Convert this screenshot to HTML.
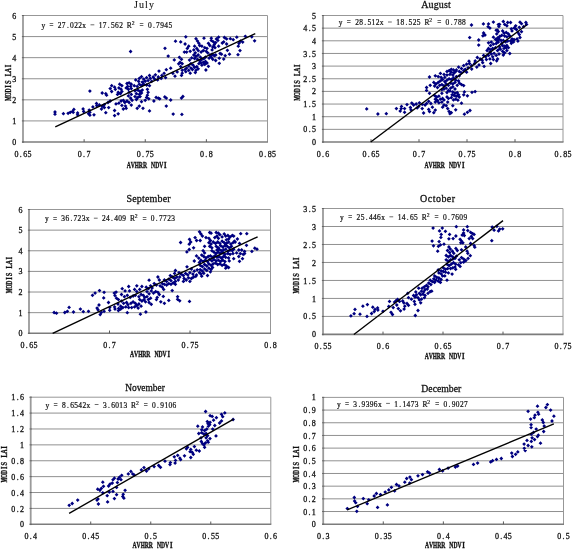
<!DOCTYPE html>
<html><head><meta charset="utf-8"><title>MODIS LAI vs AVHRR NDVI</title>
<style>html,body{margin:0;padding:0;background:#fff}body{width:572px;height:549px;overflow:hidden;font-family:"Liberation Serif",serif}svg{display:block;will-change:transform;-webkit-font-smoothing:antialiased;filter:blur(.35px)}</style></head>
<body>
<svg width="572" height="549" viewBox="0 0 572 549" font-family="'Liberation Serif', serif" fill="#111">
<rect width="572" height="549" fill="#fff"/>
<g>
<path d="M23 120.92H267.5M23 99.83H267.5M23 78.75H267.5M23 57.67H267.5M23 36.58H267.5" stroke="#909090" stroke-width="1" fill="none"/>
<path d="M22 15.5H267.5V142" stroke="#979797" stroke-width="1" fill="none"/>
<path d="M23 15V142.8" stroke="#9a9a9a" stroke-width="1.8" fill="none"/>
<path d="M22 142H268" stroke="#7c7c7c" stroke-width="1.6" fill="none"/>
<path d="M21.9 142h2.2M21.9 120.92h2.2M21.9 99.83h2.2M21.9 78.75h2.2M21.9 57.67h2.2M21.9 36.58h2.2M21.9 15.5h2.2" stroke="#666" stroke-width="1" fill="none"/>
<path d="M84.12 142v-2.8M145.25 142v-2.8M206.38 142v-2.8" stroke="#5a5a5a" stroke-width="1" fill="none"/>
<text x="17.99 22.66 27.34 32.01" y="157" font-size="8.7" text-anchor="middle" stroke="#111" stroke-width=".3" transform="scale(0.92 1)">0.65</text>
<text x="86.77 91.44 96.11" y="157" font-size="8.7" text-anchor="middle" stroke="#111" stroke-width=".3" transform="scale(0.92 1)">0.7</text>
<text x="150.87 155.54 160.22 164.89" y="157" font-size="8.7" text-anchor="middle" stroke="#111" stroke-width=".3" transform="scale(0.92 1)">0.75</text>
<text x="219.65 224.32 228.99" y="157" font-size="8.7" text-anchor="middle" stroke="#111" stroke-width=".3" transform="scale(0.92 1)">0.8</text>
<text x="283.75 288.42 293.1 297.77" y="157" font-size="8.7" text-anchor="middle" stroke="#111" stroke-width=".3" transform="scale(0.92 1)">0.85</text>
<text x="15.38" y="145.1" font-size="8.7" text-anchor="middle" stroke="#111" stroke-width=".3" transform="scale(0.92 1)">0</text>
<text x="15.38" y="124.02" font-size="8.7" text-anchor="middle" stroke="#111" stroke-width=".3" transform="scale(0.92 1)">1</text>
<text x="15.38" y="102.93" font-size="8.7" text-anchor="middle" stroke="#111" stroke-width=".3" transform="scale(0.92 1)">2</text>
<text x="15.38" y="81.85" font-size="8.7" text-anchor="middle" stroke="#111" stroke-width=".3" transform="scale(0.92 1)">3</text>
<text x="15.38" y="60.77" font-size="8.7" text-anchor="middle" stroke="#111" stroke-width=".3" transform="scale(0.92 1)">4</text>
<text x="15.38" y="39.68" font-size="8.7" text-anchor="middle" stroke="#111" stroke-width=".3" transform="scale(0.92 1)">5</text>
<text x="15.38" y="18.6" font-size="8.7" text-anchor="middle" stroke="#111" stroke-width=".3" transform="scale(0.92 1)">6</text>
<text x="134" y="7.5" font-size="10" textLength="20" lengthAdjust="spacing" stroke="#111" stroke-width=".1">July</text>
<text transform="translate(128.69 168.3) scale(0.71 1)" font-size="8" text-anchor="middle" font-weight="bold" stroke="#111" stroke-width=".32">A</text><text transform="translate(132.75 168.3) scale(0.71 1)" font-size="8" text-anchor="middle" font-weight="bold" stroke="#111" stroke-width=".32">V</text><text transform="translate(136.82 168.3) scale(0.659 1)" font-size="8" text-anchor="middle" font-weight="bold" stroke="#111" stroke-width=".32">H</text><text transform="translate(140.9 168.3) scale(0.71 1)" font-size="8" text-anchor="middle" font-weight="bold" stroke="#111" stroke-width=".32">R</text><text transform="translate(144.97 168.3) scale(0.71 1)" font-size="8" text-anchor="middle" font-weight="bold" stroke="#111" stroke-width=".32">R</text><text transform="translate(153.11 168.3) scale(0.71 1)" font-size="8" text-anchor="middle" font-weight="bold" stroke="#111" stroke-width=".32">N</text><text transform="translate(157.18 168.3) scale(0.71 1)" font-size="8" text-anchor="middle" font-weight="bold" stroke="#111" stroke-width=".32">D</text><text transform="translate(161.25 168.3) scale(0.71 1)" font-size="8" text-anchor="middle" font-weight="bold" stroke="#111" stroke-width=".32">V</text><text transform="translate(165.31 168.3) scale(0.82 1)" font-size="8" text-anchor="middle" font-weight="bold" stroke="#111" stroke-width=".32">I</text>
<g transform="translate(8.3 82.3) rotate(-90)"><text transform="translate(-16.28 2.9) scale(0.636 1)" font-size="8" text-anchor="middle" font-weight="bold" stroke="#111" stroke-width=".32">M</text><text transform="translate(-12.21 2.9) scale(0.659 1)" font-size="8" text-anchor="middle" font-weight="bold" stroke="#111" stroke-width=".32">O</text><text transform="translate(-8.14 2.9) scale(0.71 1)" font-size="8" text-anchor="middle" font-weight="bold" stroke="#111" stroke-width=".32">D</text><text transform="translate(-4.07 2.9) scale(0.82 1)" font-size="8" text-anchor="middle" font-weight="bold" stroke="#111" stroke-width=".32">I</text><text transform="translate(0 2.9) scale(0.82 1)" font-size="8" text-anchor="middle" font-weight="bold" stroke="#111" stroke-width=".32">S</text><text transform="translate(8.14 2.9) scale(0.768 1)" font-size="8" text-anchor="middle" font-weight="bold" stroke="#111" stroke-width=".32">L</text><text transform="translate(12.21 2.9) scale(0.71 1)" font-size="8" text-anchor="middle" font-weight="bold" stroke="#111" stroke-width=".32">A</text><text transform="translate(16.28 2.9) scale(0.82 1)" font-size="8" text-anchor="middle" font-weight="bold" stroke="#111" stroke-width=".32">I</text></g>
<text x="47.01 64.82 69.27 73.73 78.18 82.63 87.09 91.54 109.35 113.81 118.26 122.71 127.17 131.62 140.52 162.79 167.24 171.7 176.15 180.6 185.06" y="28" font-size="8.1" text-anchor="middle" stroke="#111" stroke-width=".22" transform="scale(0.92 1)">y27.022x17.562R0.7945</text>
<path d="M49.64 23.5h3.6M49.64 25.5h3.6M90.51 24.8h3.8M139.77 23.5h3.6M139.77 25.5h3.6" stroke="#3a3a3a" stroke-width=".75" fill="none"/>
<text x="133.08" y="25" font-size="5.6" text-anchor="middle" stroke="#111" stroke-width=".2">2</text>
<path d="M53.1 112l1.9 -1.9 1.9 1.9 -1.9 1.9zM53.1 114.2l1.9 -1.9 1.9 1.9 -1.9 1.9zM61.5 113.7l1.9 -1.9 1.9 1.9 -1.9 1.9zM66.2 113.3l1.9 -1.9 1.9 1.9 -1.9 1.9zM68.4 112.3l1.9 -1.9 1.9 1.9 -1.9 1.9zM70.6 111.5l1.9 -1.9 1.9 1.9 -1.9 1.9zM72 109.4l1.9 -1.9 1.9 1.9 -1.9 1.9zM71.3 112.3l1.9 -1.9 1.9 1.9 -1.9 1.9zM75.7 113l1.9 -1.9 1.9 1.9 -1.9 1.9zM75.7 114.8l1.9 -1.9 1.9 1.9 -1.9 1.9zM81.2 108.9l1.9 -1.9 1.9 1.9 -1.9 1.9zM81.8 111.5l1.9 -1.9 1.9 1.9 -1.9 1.9zM88 91.1l1.9 -1.9 1.9 1.9 -1.9 1.9zM87.3 110.1l1.9 -1.9 1.9 1.9 -1.9 1.9zM88 112.3l1.9 -1.9 1.9 1.9 -1.9 1.9zM86.6 113.7l1.9 -1.9 1.9 1.9 -1.9 1.9zM88 115.2l1.9 -1.9 1.9 1.9 -1.9 1.9zM92.1 114.8l1.9 -1.9 1.9 1.9 -1.9 1.9zM91 106.9l1.9 -1.9 1.9 1.9 -1.9 1.9zM94.6 103.5l1.9 -1.9 1.9 1.9 -1.9 1.9zM94.9 105.7l1.9 -1.9 1.9 1.9 -1.9 1.9zM97.5 105l1.9 -1.9 1.9 1.9 -1.9 1.9zM128.7 51.5l1.9 -1.9 1.9 1.9 -1.9 1.9zM166.3 56.1l1.9 -1.9 1.9 1.9 -1.9 1.9zM172.4 59.9l1.9 -1.9 1.9 1.9 -1.9 1.9zM177.5 57.3l1.9 -1.9 1.9 1.9 -1.9 1.9zM176.8 63.8l1.9 -1.9 1.9 1.9 -1.9 1.9zM168.8 68.2l1.9 -1.9 1.9 1.9 -1.9 1.9zM164.4 69.7l1.9 -1.9 1.9 1.9 -1.9 1.9zM157.1 71.1l1.9 -1.9 1.9 1.9 -1.9 1.9zM162.2 73.3l1.9 -1.9 1.9 1.9 -1.9 1.9zM160 75.5l1.9 -1.9 1.9 1.9 -1.9 1.9zM153.5 74.8l1.9 -1.9 1.9 1.9 -1.9 1.9zM156.4 77l1.9 -1.9 1.9 1.9 -1.9 1.9zM151.3 77l1.9 -1.9 1.9 1.9 -1.9 1.9zM147.6 75.5l1.9 -1.9 1.9 1.9 -1.9 1.9zM148.4 78.4l1.9 -1.9 1.9 1.9 -1.9 1.9zM144.7 77.7l1.9 -1.9 1.9 1.9 -1.9 1.9zM141.8 79.1l1.9 -1.9 1.9 1.9 -1.9 1.9zM139.6 76.7l1.9 -1.9 1.9 1.9 -1.9 1.9zM137.4 78.4l1.9 -1.9 1.9 1.9 -1.9 1.9zM133.8 79.9l1.9 -1.9 1.9 1.9 -1.9 1.9zM136.7 81.3l1.9 -1.9 1.9 1.9 -1.9 1.9zM140.4 82.1l1.9 -1.9 1.9 1.9 -1.9 1.9zM143.3 81.3l1.9 -1.9 1.9 1.9 -1.9 1.9zM146.2 80.6l1.9 -1.9 1.9 1.9 -1.9 1.9zM149.8 81.3l1.9 -1.9 1.9 1.9 -1.9 1.9zM152.7 79.1l1.9 -1.9 1.9 1.9 -1.9 1.9zM155.7 79.9l1.9 -1.9 1.9 1.9 -1.9 1.9zM159.3 78.4l1.9 -1.9 1.9 1.9 -1.9 1.9zM163.7 77.7l1.9 -1.9 1.9 1.9 -1.9 1.9zM173.1 76.2l1.9 -1.9 1.9 1.9 -1.9 1.9zM171 73.3l1.9 -1.9 1.9 1.9 -1.9 1.9zM175.3 71.9l1.9 -1.9 1.9 1.9 -1.9 1.9zM109.8 85.7l1.9 -1.9 1.9 1.9 -1.9 1.9zM108.3 88.6l1.9 -1.9 1.9 1.9 -1.9 1.9zM112.7 87.2l1.9 -1.9 1.9 1.9 -1.9 1.9zM113.4 89.3l1.9 -1.9 1.9 1.9 -1.9 1.9zM109.8 91.5l1.9 -1.9 1.9 1.9 -1.9 1.9zM117.8 84.2l1.9 -1.9 1.9 1.9 -1.9 1.9zM120 85.7l1.9 -1.9 1.9 1.9 -1.9 1.9zM117 87.9l1.9 -1.9 1.9 1.9 -1.9 1.9zM119.2 89.3l1.9 -1.9 1.9 1.9 -1.9 1.9zM116.3 92.3l1.9 -1.9 1.9 1.9 -1.9 1.9zM118.5 93.7l1.9 -1.9 1.9 1.9 -1.9 1.9zM120 91.5l1.9 -1.9 1.9 1.9 -1.9 1.9zM115.6 94.4l1.9 -1.9 1.9 1.9 -1.9 1.9zM125.1 83.5l1.9 -1.9 1.9 1.9 -1.9 1.9zM127.2 82.8l1.9 -1.9 1.9 1.9 -1.9 1.9zM129.4 84.2l1.9 -1.9 1.9 1.9 -1.9 1.9zM125.8 86.4l1.9 -1.9 1.9 1.9 -1.9 1.9zM128.7 86.4l1.9 -1.9 1.9 1.9 -1.9 1.9zM124.3 87.9l1.9 -1.9 1.9 1.9 -1.9 1.9zM126.5 89.3l1.9 -1.9 1.9 1.9 -1.9 1.9zM129.4 88.6l1.9 -1.9 1.9 1.9 -1.9 1.9zM132.3 85.7l1.9 -1.9 1.9 1.9 -1.9 1.9zM135.3 86.4l1.9 -1.9 1.9 1.9 -1.9 1.9zM137.4 84.2l1.9 -1.9 1.9 1.9 -1.9 1.9zM139.6 85.7l1.9 -1.9 1.9 1.9 -1.9 1.9zM141.8 84.2l1.9 -1.9 1.9 1.9 -1.9 1.9zM144.7 85l1.9 -1.9 1.9 1.9 -1.9 1.9zM147.6 85.7l1.9 -1.9 1.9 1.9 -1.9 1.9zM100.3 93l1.9 -1.9 1.9 1.9 -1.9 1.9zM103.9 93.7l1.9 -1.9 1.9 1.9 -1.9 1.9zM104.7 95.2l1.9 -1.9 1.9 1.9 -1.9 1.9zM145.5 89.3l1.9 -1.9 1.9 1.9 -1.9 1.9zM146.2 92.3l1.9 -1.9 1.9 1.9 -1.9 1.9zM145.5 95.2l1.9 -1.9 1.9 1.9 -1.9 1.9zM144.7 97.4l1.9 -1.9 1.9 1.9 -1.9 1.9zM146.9 98.8l1.9 -1.9 1.9 1.9 -1.9 1.9zM143.3 100.3l1.9 -1.9 1.9 1.9 -1.9 1.9zM133.1 90.8l1.9 -1.9 1.9 1.9 -1.9 1.9zM136 90.1l1.9 -1.9 1.9 1.9 -1.9 1.9zM138.2 91.5l1.9 -1.9 1.9 1.9 -1.9 1.9zM140.4 90.1l1.9 -1.9 1.9 1.9 -1.9 1.9zM134.5 93.7l1.9 -1.9 1.9 1.9 -1.9 1.9zM137.4 94.4l1.9 -1.9 1.9 1.9 -1.9 1.9zM139.6 93l1.9 -1.9 1.9 1.9 -1.9 1.9zM133.1 96.6l1.9 -1.9 1.9 1.9 -1.9 1.9zM136 97.4l1.9 -1.9 1.9 1.9 -1.9 1.9zM138.2 96.6l1.9 -1.9 1.9 1.9 -1.9 1.9zM134.5 99.5l1.9 -1.9 1.9 1.9 -1.9 1.9zM127.2 92.3l1.9 -1.9 1.9 1.9 -1.9 1.9zM129.4 94.4l1.9 -1.9 1.9 1.9 -1.9 1.9zM126.5 95.9l1.9 -1.9 1.9 1.9 -1.9 1.9zM128.7 98.1l1.9 -1.9 1.9 1.9 -1.9 1.9zM130.2 100.3l1.9 -1.9 1.9 1.9 -1.9 1.9zM125.1 101l1.9 -1.9 1.9 1.9 -1.9 1.9zM127.2 102.5l1.9 -1.9 1.9 1.9 -1.9 1.9zM121.4 100.3l1.9 -1.9 1.9 1.9 -1.9 1.9zM122.9 102.5l1.9 -1.9 1.9 1.9 -1.9 1.9zM119.2 101l1.9 -1.9 1.9 1.9 -1.9 1.9zM117 103.2l1.9 -1.9 1.9 1.9 -1.9 1.9zM114.1 103.9l1.9 -1.9 1.9 1.9 -1.9 1.9zM120 105.4l1.9 -1.9 1.9 1.9 -1.9 1.9zM123.6 106.1l1.9 -1.9 1.9 1.9 -1.9 1.9zM154.2 97.4l1.9 -1.9 1.9 1.9 -1.9 1.9zM156.4 98.1l1.9 -1.9 1.9 1.9 -1.9 1.9zM157.8 98.8l1.9 -1.9 1.9 1.9 -1.9 1.9zM162.9 96.9l1.9 -1.9 1.9 1.9 -1.9 1.9zM164.4 98.1l1.9 -1.9 1.9 1.9 -1.9 1.9zM168.8 100l1.9 -1.9 1.9 1.9 -1.9 1.9zM152 101l1.9 -1.9 1.9 1.9 -1.9 1.9zM139.6 101.7l1.9 -1.9 1.9 1.9 -1.9 1.9zM137.4 106.1l1.9 -1.9 1.9 1.9 -1.9 1.9zM135.3 108.3l1.9 -1.9 1.9 1.9 -1.9 1.9zM141.1 108.3l1.9 -1.9 1.9 1.9 -1.9 1.9zM147.6 110.9l1.9 -1.9 1.9 1.9 -1.9 1.9zM164.4 106.1l1.9 -1.9 1.9 1.9 -1.9 1.9zM171.3 114.1l1.9 -1.9 1.9 1.9 -1.9 1.9zM129.4 105.1l1.9 -1.9 1.9 1.9 -1.9 1.9zM124.3 108.3l1.9 -1.9 1.9 1.9 -1.9 1.9zM121.4 109l1.9 -1.9 1.9 1.9 -1.9 1.9zM112.7 110.5l1.9 -1.9 1.9 1.9 -1.9 1.9zM116.3 113.8l1.9 -1.9 1.9 1.9 -1.9 1.9zM112.7 115.6l1.9 -1.9 1.9 1.9 -1.9 1.9zM103.9 112.7l1.9 -1.9 1.9 1.9 -1.9 1.9zM100.3 106.1l1.9 -1.9 1.9 1.9 -1.9 1.9zM102.5 107.6l1.9 -1.9 1.9 1.9 -1.9 1.9zM99.6 109l1.9 -1.9 1.9 1.9 -1.9 1.9zM106.8 107.6l1.9 -1.9 1.9 1.9 -1.9 1.9zM102.5 104.6l1.9 -1.9 1.9 1.9 -1.9 1.9zM106.1 102.5l1.9 -1.9 1.9 1.9 -1.9 1.9zM108.3 101l1.9 -1.9 1.9 1.9 -1.9 1.9zM183.9 36.8l1.9 -1.9 1.9 1.9 -1.9 1.9zM194.1 38.7l1.9 -1.9 1.9 1.9 -1.9 1.9zM202.1 38.2l1.9 -1.9 1.9 1.9 -1.9 1.9zM209.4 38.2l1.9 -1.9 1.9 1.9 -1.9 1.9zM216.7 37.2l1.9 -1.9 1.9 1.9 -1.9 1.9zM222.5 37.5l1.9 -1.9 1.9 1.9 -1.9 1.9zM224.7 38.9l1.9 -1.9 1.9 1.9 -1.9 1.9zM228.4 38.7l1.9 -1.9 1.9 1.9 -1.9 1.9zM231.3 39.7l1.9 -1.9 1.9 1.9 -1.9 1.9zM234.9 37.2l1.9 -1.9 1.9 1.9 -1.9 1.9zM243.4 36.3l1.9 -1.9 1.9 1.9 -1.9 1.9zM249.9 36.8l1.9 -1.9 1.9 1.9 -1.9 1.9zM252.7 40.8l1.9 -1.9 1.9 1.9 -1.9 1.9zM178.8 41.9l1.9 -1.9 1.9 1.9 -1.9 1.9zM183.2 44l1.9 -1.9 1.9 1.9 -1.9 1.9zM186.8 46.2l1.9 -1.9 1.9 1.9 -1.9 1.9zM185.4 48.4l1.9 -1.9 1.9 1.9 -1.9 1.9zM182.5 52.1l1.9 -1.9 1.9 1.9 -1.9 1.9zM184.7 52.1l1.9 -1.9 1.9 1.9 -1.9 1.9zM188.3 51.3l1.9 -1.9 1.9 1.9 -1.9 1.9zM195.6 41.1l1.9 -1.9 1.9 1.9 -1.9 1.9zM197 43.3l1.9 -1.9 1.9 1.9 -1.9 1.9zM192.7 46.2l1.9 -1.9 1.9 1.9 -1.9 1.9zM194.9 48.4l1.9 -1.9 1.9 1.9 -1.9 1.9zM191.9 49.9l1.9 -1.9 1.9 1.9 -1.9 1.9zM196.3 50.6l1.9 -1.9 1.9 1.9 -1.9 1.9zM193.4 52.8l1.9 -1.9 1.9 1.9 -1.9 1.9zM197.8 45.5l1.9 -1.9 1.9 1.9 -1.9 1.9zM200 46.2l1.9 -1.9 1.9 1.9 -1.9 1.9zM202.9 47.7l1.9 -1.9 1.9 1.9 -1.9 1.9zM205.1 48.4l1.9 -1.9 1.9 1.9 -1.9 1.9zM201.4 50.6l1.9 -1.9 1.9 1.9 -1.9 1.9zM204.3 51.3l1.9 -1.9 1.9 1.9 -1.9 1.9zM199.2 52.1l1.9 -1.9 1.9 1.9 -1.9 1.9zM206.5 43.3l1.9 -1.9 1.9 1.9 -1.9 1.9zM208 45.5l1.9 -1.9 1.9 1.9 -1.9 1.9zM205.8 52.8l1.9 -1.9 1.9 1.9 -1.9 1.9zM209.4 40.4l1.9 -1.9 1.9 1.9 -1.9 1.9zM211.6 41.9l1.9 -1.9 1.9 1.9 -1.9 1.9zM213.8 42.6l1.9 -1.9 1.9 1.9 -1.9 1.9zM212.3 44.8l1.9 -1.9 1.9 1.9 -1.9 1.9zM210.9 47l1.9 -1.9 1.9 1.9 -1.9 1.9zM213.1 47.7l1.9 -1.9 1.9 1.9 -1.9 1.9zM210.2 49.9l1.9 -1.9 1.9 1.9 -1.9 1.9zM214.5 38.9l1.9 -1.9 1.9 1.9 -1.9 1.9zM216 40.4l1.9 -1.9 1.9 1.9 -1.9 1.9zM220.4 43l1.9 -1.9 1.9 1.9 -1.9 1.9zM221.8 41.9l1.9 -1.9 1.9 1.9 -1.9 1.9zM224.7 44l1.9 -1.9 1.9 1.9 -1.9 1.9zM216.7 46.2l1.9 -1.9 1.9 1.9 -1.9 1.9zM218.2 53.5l1.9 -1.9 1.9 1.9 -1.9 1.9zM219.6 54.2l1.9 -1.9 1.9 1.9 -1.9 1.9zM225.5 50.3l1.9 -1.9 1.9 1.9 -1.9 1.9zM223.3 55.7l1.9 -1.9 1.9 1.9 -1.9 1.9zM227.6 54.2l1.9 -1.9 1.9 1.9 -1.9 1.9zM238.6 41.1l1.9 -1.9 1.9 1.9 -1.9 1.9zM240.8 42.1l1.9 -1.9 1.9 1.9 -1.9 1.9zM237.1 43.3l1.9 -1.9 1.9 1.9 -1.9 1.9zM236.4 46.2l1.9 -1.9 1.9 1.9 -1.9 1.9zM238.1 50.6l1.9 -1.9 1.9 1.9 -1.9 1.9zM236.1 54.7l1.9 -1.9 1.9 1.9 -1.9 1.9zM191.9 55l1.9 -1.9 1.9 1.9 -1.9 1.9zM194.1 56.4l1.9 -1.9 1.9 1.9 -1.9 1.9zM196.3 55l1.9 -1.9 1.9 1.9 -1.9 1.9zM198.5 57.2l1.9 -1.9 1.9 1.9 -1.9 1.9zM189.8 57.9l1.9 -1.9 1.9 1.9 -1.9 1.9zM187.6 60.1l1.9 -1.9 1.9 1.9 -1.9 1.9zM192.7 58.6l1.9 -1.9 1.9 1.9 -1.9 1.9zM195.6 59.3l1.9 -1.9 1.9 1.9 -1.9 1.9zM197.8 60.8l1.9 -1.9 1.9 1.9 -1.9 1.9zM200 59.3l1.9 -1.9 1.9 1.9 -1.9 1.9zM202.1 58.6l1.9 -1.9 1.9 1.9 -1.9 1.9zM203.6 57.2l1.9 -1.9 1.9 1.9 -1.9 1.9zM208 55l1.9 -1.9 1.9 1.9 -1.9 1.9zM210.2 54.2l1.9 -1.9 1.9 1.9 -1.9 1.9zM212.3 55.7l1.9 -1.9 1.9 1.9 -1.9 1.9zM209.4 57.2l1.9 -1.9 1.9 1.9 -1.9 1.9zM213.8 55l1.9 -1.9 1.9 1.9 -1.9 1.9zM207.2 58.2l1.9 -1.9 1.9 1.9 -1.9 1.9zM210.9 59.3l1.9 -1.9 1.9 1.9 -1.9 1.9zM213.8 60.5l1.9 -1.9 1.9 1.9 -1.9 1.9zM217.4 58.2l1.9 -1.9 1.9 1.9 -1.9 1.9zM221.8 59.1l1.9 -1.9 1.9 1.9 -1.9 1.9zM217.4 63.3l1.9 -1.9 1.9 1.9 -1.9 1.9zM179.6 59.3l1.9 -1.9 1.9 1.9 -1.9 1.9zM178.1 62.3l1.9 -1.9 1.9 1.9 -1.9 1.9zM180.3 63.7l1.9 -1.9 1.9 1.9 -1.9 1.9zM178.8 66.6l1.9 -1.9 1.9 1.9 -1.9 1.9zM203.6 61.5l1.9 -1.9 1.9 1.9 -1.9 1.9zM201.4 62.3l1.9 -1.9 1.9 1.9 -1.9 1.9zM199.2 63l1.9 -1.9 1.9 1.9 -1.9 1.9zM197 63.7l1.9 -1.9 1.9 1.9 -1.9 1.9zM200 65.2l1.9 -1.9 1.9 1.9 -1.9 1.9zM202.9 64.4l1.9 -1.9 1.9 1.9 -1.9 1.9zM205.1 63l1.9 -1.9 1.9 1.9 -1.9 1.9zM206.5 66.3l1.9 -1.9 1.9 1.9 -1.9 1.9zM204 70l1.9 -1.9 1.9 1.9 -1.9 1.9zM189 63.7l1.9 -1.9 1.9 1.9 -1.9 1.9zM191.2 65.2l1.9 -1.9 1.9 1.9 -1.9 1.9zM186.8 65.9l1.9 -1.9 1.9 1.9 -1.9 1.9zM184.7 68.1l1.9 -1.9 1.9 1.9 -1.9 1.9zM189 68.1l1.9 -1.9 1.9 1.9 -1.9 1.9zM192.7 67.4l1.9 -1.9 1.9 1.9 -1.9 1.9zM194.9 66.6l1.9 -1.9 1.9 1.9 -1.9 1.9zM196.3 68.8l1.9 -1.9 1.9 1.9 -1.9 1.9zM194.1 70.3l1.9 -1.9 1.9 1.9 -1.9 1.9zM190.5 69.5l1.9 -1.9 1.9 1.9 -1.9 1.9zM180.3 70.3l1.9 -1.9 1.9 1.9 -1.9 1.9zM183.2 69.5l1.9 -1.9 1.9 1.9 -1.9 1.9zM183.9 71.7l1.9 -1.9 1.9 1.9 -1.9 1.9zM180.3 73.2l1.9 -1.9 1.9 1.9 -1.9 1.9zM179.6 75.4l1.9 -1.9 1.9 1.9 -1.9 1.9zM186.8 70.3l1.9 -1.9 1.9 1.9 -1.9 1.9zM188.3 73.2l1.9 -1.9 1.9 1.9 -1.9 1.9zM193.4 72.5l1.9 -1.9 1.9 1.9 -1.9 1.9zM181 96.5l1.9 -1.9 1.9 1.9 -1.9 1.9zM179.6 98l1.9 -1.9 1.9 1.9 -1.9 1.9zM173.6 41.2l1.9 -1.9 1.9 1.9 -1.9 1.9zM163.1 48.3l1.9 -1.9 1.9 1.9 -1.9 1.9zM180 114.4l1.9 -1.9 1.9 1.9 -1.9 1.9z" fill="#000080"/>
<path d="M55.27 126.91L255.27 33.71" stroke="#000" stroke-width="1.35" fill="none"/>
</g>
<g>
<path d="M323 129.35H563M323 116.7H563M323 104.05H563M323 91.4H563M323 78.75H563M323 66.1H563M323 53.45H563M323 40.8H563M323 28.15H563" stroke="#909090" stroke-width="1" fill="none"/>
<path d="M322 15.5H563V142" stroke="#979797" stroke-width="1" fill="none"/>
<path d="M323 15V142.8" stroke="#9a9a9a" stroke-width="1.8" fill="none"/>
<path d="M322 142H563.5" stroke="#7c7c7c" stroke-width="1.6" fill="none"/>
<path d="M321.9 142h2.2M321.9 129.35h2.2M321.9 116.7h2.2M321.9 104.05h2.2M321.9 91.4h2.2M321.9 78.75h2.2M321.9 66.1h2.2M321.9 53.45h2.2M321.9 40.8h2.2M321.9 28.15h2.2M321.9 15.5h2.2" stroke="#666" stroke-width="1" fill="none"/>
<path d="M371 142v-2.8M419 142v-2.8M467 142v-2.8M515 142v-2.8" stroke="#5a5a5a" stroke-width="1" fill="none"/>
<text x="346.41 351.09 355.76" y="157" font-size="8.7" text-anchor="middle" stroke="#111" stroke-width=".3" transform="scale(0.92 1)">0.6</text>
<text x="396.25 400.92 405.6 410.27" y="157" font-size="8.7" text-anchor="middle" stroke="#111" stroke-width=".3" transform="scale(0.92 1)">0.65</text>
<text x="450.76 455.43 460.11" y="157" font-size="8.7" text-anchor="middle" stroke="#111" stroke-width=".3" transform="scale(0.92 1)">0.7</text>
<text x="500.6 505.27 509.95 514.62" y="157" font-size="8.7" text-anchor="middle" stroke="#111" stroke-width=".3" transform="scale(0.92 1)">0.75</text>
<text x="555.11 559.78 564.46" y="157" font-size="8.7" text-anchor="middle" stroke="#111" stroke-width=".3" transform="scale(0.92 1)">0.8</text>
<text x="604.95 609.62 614.29 618.97" y="157" font-size="8.7" text-anchor="middle" stroke="#111" stroke-width=".3" transform="scale(0.92 1)">0.85</text>
<text x="341.25" y="145.1" font-size="8.7" text-anchor="middle" stroke="#111" stroke-width=".3" transform="scale(0.92 1)">0</text>
<text x="331.9 336.58 341.25" y="132.45" font-size="8.7" text-anchor="middle" stroke="#111" stroke-width=".3" transform="scale(0.92 1)">0.5</text>
<text x="341.25" y="119.8" font-size="8.7" text-anchor="middle" stroke="#111" stroke-width=".3" transform="scale(0.92 1)">1</text>
<text x="331.9 336.58 341.25" y="107.15" font-size="8.7" text-anchor="middle" stroke="#111" stroke-width=".3" transform="scale(0.92 1)">1.5</text>
<text x="341.25" y="94.5" font-size="8.7" text-anchor="middle" stroke="#111" stroke-width=".3" transform="scale(0.92 1)">2</text>
<text x="331.9 336.58 341.25" y="81.85" font-size="8.7" text-anchor="middle" stroke="#111" stroke-width=".3" transform="scale(0.92 1)">2.5</text>
<text x="341.25" y="69.2" font-size="8.7" text-anchor="middle" stroke="#111" stroke-width=".3" transform="scale(0.92 1)">3</text>
<text x="331.9 336.58 341.25" y="56.55" font-size="8.7" text-anchor="middle" stroke="#111" stroke-width=".3" transform="scale(0.92 1)">3.5</text>
<text x="341.25" y="43.9" font-size="8.7" text-anchor="middle" stroke="#111" stroke-width=".3" transform="scale(0.92 1)">4</text>
<text x="331.9 336.58 341.25" y="31.25" font-size="8.7" text-anchor="middle" stroke="#111" stroke-width=".3" transform="scale(0.92 1)">4.5</text>
<text x="341.25" y="18.6" font-size="8.7" text-anchor="middle" stroke="#111" stroke-width=".3" transform="scale(0.92 1)">5</text>
<text x="421.2" y="8.3" font-size="10" textLength="29.6" lengthAdjust="spacing" stroke="#111" stroke-width=".28">August</text>
<text transform="translate(426.58 168.3) scale(0.71 1)" font-size="8" text-anchor="middle" font-weight="bold" stroke="#111" stroke-width=".32">A</text><text transform="translate(430.65 168.3) scale(0.71 1)" font-size="8" text-anchor="middle" font-weight="bold" stroke="#111" stroke-width=".32">V</text><text transform="translate(434.72 168.3) scale(0.659 1)" font-size="8" text-anchor="middle" font-weight="bold" stroke="#111" stroke-width=".32">H</text><text transform="translate(438.79 168.3) scale(0.71 1)" font-size="8" text-anchor="middle" font-weight="bold" stroke="#111" stroke-width=".32">R</text><text transform="translate(442.87 168.3) scale(0.71 1)" font-size="8" text-anchor="middle" font-weight="bold" stroke="#111" stroke-width=".32">R</text><text transform="translate(451 168.3) scale(0.71 1)" font-size="8" text-anchor="middle" font-weight="bold" stroke="#111" stroke-width=".32">N</text><text transform="translate(455.07 168.3) scale(0.71 1)" font-size="8" text-anchor="middle" font-weight="bold" stroke="#111" stroke-width=".32">D</text><text transform="translate(459.14 168.3) scale(0.71 1)" font-size="8" text-anchor="middle" font-weight="bold" stroke="#111" stroke-width=".32">V</text><text transform="translate(463.21 168.3) scale(0.82 1)" font-size="8" text-anchor="middle" font-weight="bold" stroke="#111" stroke-width=".32">I</text>
<g transform="translate(296.7 82) rotate(-90)"><text transform="translate(-16.28 2.9) scale(0.636 1)" font-size="8" text-anchor="middle" font-weight="bold" stroke="#111" stroke-width=".32">M</text><text transform="translate(-12.21 2.9) scale(0.659 1)" font-size="8" text-anchor="middle" font-weight="bold" stroke="#111" stroke-width=".32">O</text><text transform="translate(-8.14 2.9) scale(0.71 1)" font-size="8" text-anchor="middle" font-weight="bold" stroke="#111" stroke-width=".32">D</text><text transform="translate(-4.07 2.9) scale(0.82 1)" font-size="8" text-anchor="middle" font-weight="bold" stroke="#111" stroke-width=".32">I</text><text transform="translate(0 2.9) scale(0.82 1)" font-size="8" text-anchor="middle" font-weight="bold" stroke="#111" stroke-width=".32">S</text><text transform="translate(8.14 2.9) scale(0.768 1)" font-size="8" text-anchor="middle" font-weight="bold" stroke="#111" stroke-width=".32">L</text><text transform="translate(12.21 2.9) scale(0.71 1)" font-size="8" text-anchor="middle" font-weight="bold" stroke="#111" stroke-width=".32">A</text><text transform="translate(16.28 2.9) scale(0.82 1)" font-size="8" text-anchor="middle" font-weight="bold" stroke="#111" stroke-width=".32">I</text></g>
<text x="370.17 388.05 392.52 396.99 401.46 405.93 410.4 414.88 432.76 437.23 441.7 446.17 450.64 455.11 464.05 486.4 490.87 495.35 499.82 504.29" y="25.2" font-size="8.1" text-anchor="middle" stroke="#111" stroke-width=".22" transform="scale(0.92 1)">y28.512x18.525R0.788</text>
<path d="M346.98 20.5h3.6M346.98 22.5h3.6M388.01 22h3.8M437.47 20.5h3.6M437.47 22.5h3.6" stroke="#3a3a3a" stroke-width=".75" fill="none"/>
<text x="430.74" y="22.2" font-size="5.6" text-anchor="middle" stroke="#111" stroke-width=".2">2</text>
<path d="M364.8 108.9l1.9 -1.9 1.9 1.9 -1.9 1.9zM376 114l1.9 -1.9 1.9 1.9 -1.9 1.9zM384.4 113.7l1.9 -1.9 1.9 1.9 -1.9 1.9zM394.5 108.6l1.9 -1.9 1.9 1.9 -1.9 1.9zM398.3 111.1l1.9 -1.9 1.9 1.9 -1.9 1.9zM399.6 106.4l1.9 -1.9 1.9 1.9 -1.9 1.9zM399.3 108.6l1.9 -1.9 1.9 1.9 -1.9 1.9zM402.7 108.6l1.9 -1.9 1.9 1.9 -1.9 1.9zM402.7 112.3l1.9 -1.9 1.9 1.9 -1.9 1.9zM405.1 104.6l1.9 -1.9 1.9 1.9 -1.9 1.9zM408.5 107.5l1.9 -1.9 1.9 1.9 -1.9 1.9zM409.1 109.8l1.9 -1.9 1.9 1.9 -1.9 1.9zM409.9 103.1l1.9 -1.9 1.9 1.9 -1.9 1.9zM411.7 105l1.9 -1.9 1.9 1.9 -1.9 1.9zM414.3 104l1.9 -1.9 1.9 1.9 -1.9 1.9zM417.5 102.8l1.9 -1.9 1.9 1.9 -1.9 1.9zM415.3 107.9l1.9 -1.9 1.9 1.9 -1.9 1.9zM416.8 106.4l1.9 -1.9 1.9 1.9 -1.9 1.9zM488.8 63.5l1.9 -1.9 1.9 1.9 -1.9 1.9zM480.8 62.7l1.9 -1.9 1.9 1.9 -1.9 1.9zM482.2 66.4l1.9 -1.9 1.9 1.9 -1.9 1.9zM477.1 64.9l1.9 -1.9 1.9 1.9 -1.9 1.9zM474.9 67.1l1.9 -1.9 1.9 1.9 -1.9 1.9zM472.7 63.5l1.9 -1.9 1.9 1.9 -1.9 1.9zM469.8 65.6l1.9 -1.9 1.9 1.9 -1.9 1.9zM467.6 63.5l1.9 -1.9 1.9 1.9 -1.9 1.9zM464.7 64.2l1.9 -1.9 1.9 1.9 -1.9 1.9zM461.8 65.6l1.9 -1.9 1.9 1.9 -1.9 1.9zM466.2 67.8l1.9 -1.9 1.9 1.9 -1.9 1.9zM469.8 69l1.9 -1.9 1.9 1.9 -1.9 1.9zM463.3 69.3l1.9 -1.9 1.9 1.9 -1.9 1.9zM459.6 68.6l1.9 -1.9 1.9 1.9 -1.9 1.9zM456.7 67.1l1.9 -1.9 1.9 1.9 -1.9 1.9zM454.5 70l1.9 -1.9 1.9 1.9 -1.9 1.9zM449.4 69.3l1.9 -1.9 1.9 1.9 -1.9 1.9zM451.6 70l1.9 -1.9 1.9 1.9 -1.9 1.9zM447.2 70.7l1.9 -1.9 1.9 1.9 -1.9 1.9zM445.1 71.5l1.9 -1.9 1.9 1.9 -1.9 1.9zM449.4 72.2l1.9 -1.9 1.9 1.9 -1.9 1.9zM452.3 72.9l1.9 -1.9 1.9 1.9 -1.9 1.9zM453.8 71.5l1.9 -1.9 1.9 1.9 -1.9 1.9zM448 74.4l1.9 -1.9 1.9 1.9 -1.9 1.9zM450.9 75.1l1.9 -1.9 1.9 1.9 -1.9 1.9zM438.5 73.4l1.9 -1.9 1.9 1.9 -1.9 1.9zM442.1 74.4l1.9 -1.9 1.9 1.9 -1.9 1.9zM445.1 75.1l1.9 -1.9 1.9 1.9 -1.9 1.9zM433.4 75.8l1.9 -1.9 1.9 1.9 -1.9 1.9zM436.3 76.6l1.9 -1.9 1.9 1.9 -1.9 1.9zM439.2 77.3l1.9 -1.9 1.9 1.9 -1.9 1.9zM442.9 77.3l1.9 -1.9 1.9 1.9 -1.9 1.9zM427.6 77l1.9 -1.9 1.9 1.9 -1.9 1.9zM457.4 71.5l1.9 -1.9 1.9 1.9 -1.9 1.9zM459.6 72.9l1.9 -1.9 1.9 1.9 -1.9 1.9zM461.8 70.7l1.9 -1.9 1.9 1.9 -1.9 1.9zM464.7 72.2l1.9 -1.9 1.9 1.9 -1.9 1.9zM457.4 75.8l1.9 -1.9 1.9 1.9 -1.9 1.9zM454.5 76.6l1.9 -1.9 1.9 1.9 -1.9 1.9zM424.7 87.5l1.9 -1.9 1.9 1.9 -1.9 1.9zM428.3 85.3l1.9 -1.9 1.9 1.9 -1.9 1.9zM424.7 90.4l1.9 -1.9 1.9 1.9 -1.9 1.9zM427.6 93.3l1.9 -1.9 1.9 1.9 -1.9 1.9zM431.9 82.4l1.9 -1.9 1.9 1.9 -1.9 1.9zM434.1 83.9l1.9 -1.9 1.9 1.9 -1.9 1.9zM436.3 82.4l1.9 -1.9 1.9 1.9 -1.9 1.9zM438.5 80.9l1.9 -1.9 1.9 1.9 -1.9 1.9zM440.7 79.5l1.9 -1.9 1.9 1.9 -1.9 1.9zM442.9 81.7l1.9 -1.9 1.9 1.9 -1.9 1.9zM445.1 80.2l1.9 -1.9 1.9 1.9 -1.9 1.9zM447.2 78.8l1.9 -1.9 1.9 1.9 -1.9 1.9zM449.4 79.5l1.9 -1.9 1.9 1.9 -1.9 1.9zM451.6 78l1.9 -1.9 1.9 1.9 -1.9 1.9zM453.8 80.2l1.9 -1.9 1.9 1.9 -1.9 1.9zM432.7 86l1.9 -1.9 1.9 1.9 -1.9 1.9zM435.6 87.5l1.9 -1.9 1.9 1.9 -1.9 1.9zM437.8 85.3l1.9 -1.9 1.9 1.9 -1.9 1.9zM440 84.6l1.9 -1.9 1.9 1.9 -1.9 1.9zM442.1 86l1.9 -1.9 1.9 1.9 -1.9 1.9zM444.3 83.9l1.9 -1.9 1.9 1.9 -1.9 1.9zM446.5 85.3l1.9 -1.9 1.9 1.9 -1.9 1.9zM448.7 83.1l1.9 -1.9 1.9 1.9 -1.9 1.9zM450.9 83.9l1.9 -1.9 1.9 1.9 -1.9 1.9zM453.1 82.4l1.9 -1.9 1.9 1.9 -1.9 1.9zM456.7 80.9l1.9 -1.9 1.9 1.9 -1.9 1.9zM457.4 83.1l1.9 -1.9 1.9 1.9 -1.9 1.9zM459.6 84.6l1.9 -1.9 1.9 1.9 -1.9 1.9zM461.8 85.6l1.9 -1.9 1.9 1.9 -1.9 1.9zM455.3 85.3l1.9 -1.9 1.9 1.9 -1.9 1.9zM440 89.7l1.9 -1.9 1.9 1.9 -1.9 1.9zM442.1 89l1.9 -1.9 1.9 1.9 -1.9 1.9zM444.3 88.2l1.9 -1.9 1.9 1.9 -1.9 1.9zM446.5 90.4l1.9 -1.9 1.9 1.9 -1.9 1.9zM448.7 88.2l1.9 -1.9 1.9 1.9 -1.9 1.9zM450.9 86.8l1.9 -1.9 1.9 1.9 -1.9 1.9zM453.1 89l1.9 -1.9 1.9 1.9 -1.9 1.9zM448 91.1l1.9 -1.9 1.9 1.9 -1.9 1.9zM445.1 92.6l1.9 -1.9 1.9 1.9 -1.9 1.9zM440 93.3l1.9 -1.9 1.9 1.9 -1.9 1.9zM450.9 91.9l1.9 -1.9 1.9 1.9 -1.9 1.9zM453.1 93.3l1.9 -1.9 1.9 1.9 -1.9 1.9zM455.3 92.6l1.9 -1.9 1.9 1.9 -1.9 1.9zM456.7 94.8l1.9 -1.9 1.9 1.9 -1.9 1.9zM454.5 96.2l1.9 -1.9 1.9 1.9 -1.9 1.9zM452.3 95.5l1.9 -1.9 1.9 1.9 -1.9 1.9zM450.2 94.8l1.9 -1.9 1.9 1.9 -1.9 1.9zM457.4 97l1.9 -1.9 1.9 1.9 -1.9 1.9zM453.8 99.2l1.9 -1.9 1.9 1.9 -1.9 1.9zM456 100.2l1.9 -1.9 1.9 1.9 -1.9 1.9zM451.6 99.9l1.9 -1.9 1.9 1.9 -1.9 1.9zM449.4 97.7l1.9 -1.9 1.9 1.9 -1.9 1.9zM462.5 91.9l1.9 -1.9 1.9 1.9 -1.9 1.9zM461.8 94.8l1.9 -1.9 1.9 1.9 -1.9 1.9zM465.5 95.8l1.9 -1.9 1.9 1.9 -1.9 1.9zM470.1 92.3l1.9 -1.9 1.9 1.9 -1.9 1.9zM473.2 91.6l1.9 -1.9 1.9 1.9 -1.9 1.9zM459.6 103.2l1.9 -1.9 1.9 1.9 -1.9 1.9zM432.7 95.5l1.9 -1.9 1.9 1.9 -1.9 1.9zM434.9 97l1.9 -1.9 1.9 1.9 -1.9 1.9zM437 96.2l1.9 -1.9 1.9 1.9 -1.9 1.9zM433.4 99.2l1.9 -1.9 1.9 1.9 -1.9 1.9zM435.6 100.6l1.9 -1.9 1.9 1.9 -1.9 1.9zM438.5 99.2l1.9 -1.9 1.9 1.9 -1.9 1.9zM440.7 98.4l1.9 -1.9 1.9 1.9 -1.9 1.9zM442.1 99.9l1.9 -1.9 1.9 1.9 -1.9 1.9zM440 102.1l1.9 -1.9 1.9 1.9 -1.9 1.9zM437 102.8l1.9 -1.9 1.9 1.9 -1.9 1.9zM433.4 102.1l1.9 -1.9 1.9 1.9 -1.9 1.9zM445.1 97l1.9 -1.9 1.9 1.9 -1.9 1.9zM446.5 98.4l1.9 -1.9 1.9 1.9 -1.9 1.9zM445.8 102.1l1.9 -1.9 1.9 1.9 -1.9 1.9zM426.8 101.3l1.9 -1.9 1.9 1.9 -1.9 1.9zM429 103.5l1.9 -1.9 1.9 1.9 -1.9 1.9zM424.7 103.5l1.9 -1.9 1.9 1.9 -1.9 1.9zM423.2 105l1.9 -1.9 1.9 1.9 -1.9 1.9zM420.3 104.3l1.9 -1.9 1.9 1.9 -1.9 1.9zM442.1 105l1.9 -1.9 1.9 1.9 -1.9 1.9zM440.7 107.2l1.9 -1.9 1.9 1.9 -1.9 1.9zM444.3 105.7l1.9 -1.9 1.9 1.9 -1.9 1.9zM445.8 108.6l1.9 -1.9 1.9 1.9 -1.9 1.9zM450.9 105.7l1.9 -1.9 1.9 1.9 -1.9 1.9zM453.8 109.8l1.9 -1.9 1.9 1.9 -1.9 1.9zM420.3 108.6l1.9 -1.9 1.9 1.9 -1.9 1.9zM426.8 109.4l1.9 -1.9 1.9 1.9 -1.9 1.9zM427.6 111.5l1.9 -1.9 1.9 1.9 -1.9 1.9zM421.7 113l1.9 -1.9 1.9 1.9 -1.9 1.9zM431.9 112.7l1.9 -1.9 1.9 1.9 -1.9 1.9zM433.4 110.1l1.9 -1.9 1.9 1.9 -1.9 1.9zM430.5 107.2l1.9 -1.9 1.9 1.9 -1.9 1.9zM447.2 111.5l1.9 -1.9 1.9 1.9 -1.9 1.9zM449.4 112.7l1.9 -1.9 1.9 1.9 -1.9 1.9zM448 113.7l1.9 -1.9 1.9 1.9 -1.9 1.9zM462.5 114.2l1.9 -1.9 1.9 1.9 -1.9 1.9zM465.5 112.3l1.9 -1.9 1.9 1.9 -1.9 1.9zM468.1 110.5l1.9 -1.9 1.9 1.9 -1.9 1.9zM469.6 25l1.9 -1.9 1.9 1.9 -1.9 1.9zM467.8 37.6l1.9 -1.9 1.9 1.9 -1.9 1.9zM476.8 40l1.9 -1.9 1.9 1.9 -1.9 1.9zM476.8 45.1l1.9 -1.9 1.9 1.9 -1.9 1.9zM481.5 23.9l1.9 -1.9 1.9 1.9 -1.9 1.9zM486.6 23.9l1.9 -1.9 1.9 1.9 -1.9 1.9zM491.5 22.1l1.9 -1.9 1.9 1.9 -1.9 1.9zM486.2 26.7l1.9 -1.9 1.9 1.9 -1.9 1.9zM488 28.1l1.9 -1.9 1.9 1.9 -1.9 1.9zM496.4 24.6l1.9 -1.9 1.9 1.9 -1.9 1.9zM481.7 33l1.9 -1.9 1.9 1.9 -1.9 1.9zM483.1 35.1l1.9 -1.9 1.9 1.9 -1.9 1.9zM481 35.8l1.9 -1.9 1.9 1.9 -1.9 1.9zM494.3 30.2l1.9 -1.9 1.9 1.9 -1.9 1.9zM496.4 31.6l1.9 -1.9 1.9 1.9 -1.9 1.9zM491.5 37.2l1.9 -1.9 1.9 1.9 -1.9 1.9zM493.6 39.3l1.9 -1.9 1.9 1.9 -1.9 1.9zM495.7 37.9l1.9 -1.9 1.9 1.9 -1.9 1.9zM497.8 36.5l1.9 -1.9 1.9 1.9 -1.9 1.9zM486.6 42.8l1.9 -1.9 1.9 1.9 -1.9 1.9zM489.4 42.1l1.9 -1.9 1.9 1.9 -1.9 1.9zM491.5 44.2l1.9 -1.9 1.9 1.9 -1.9 1.9zM494.3 43.5l1.9 -1.9 1.9 1.9 -1.9 1.9zM488.7 45.6l1.9 -1.9 1.9 1.9 -1.9 1.9zM496.4 42.1l1.9 -1.9 1.9 1.9 -1.9 1.9zM486.6 48.4l1.9 -1.9 1.9 1.9 -1.9 1.9zM488.7 49.8l1.9 -1.9 1.9 1.9 -1.9 1.9zM490.8 48.4l1.9 -1.9 1.9 1.9 -1.9 1.9zM485.2 50.5l1.9 -1.9 1.9 1.9 -1.9 1.9zM488 51.9l1.9 -1.9 1.9 1.9 -1.9 1.9zM493.6 47.7l1.9 -1.9 1.9 1.9 -1.9 1.9zM496.4 49.8l1.9 -1.9 1.9 1.9 -1.9 1.9zM497.8 47l1.9 -1.9 1.9 1.9 -1.9 1.9zM481.7 55.4l1.9 -1.9 1.9 1.9 -1.9 1.9zM483.8 56.8l1.9 -1.9 1.9 1.9 -1.9 1.9zM486.6 55.4l1.9 -1.9 1.9 1.9 -1.9 1.9zM489.4 54l1.9 -1.9 1.9 1.9 -1.9 1.9zM492.2 53.3l1.9 -1.9 1.9 1.9 -1.9 1.9zM494.3 55.4l1.9 -1.9 1.9 1.9 -1.9 1.9zM497.1 54l1.9 -1.9 1.9 1.9 -1.9 1.9zM490.8 56.8l1.9 -1.9 1.9 1.9 -1.9 1.9zM475.4 57.5l1.9 -1.9 1.9 1.9 -1.9 1.9zM478.2 58.9l1.9 -1.9 1.9 1.9 -1.9 1.9zM480.3 60.3l1.9 -1.9 1.9 1.9 -1.9 1.9zM484.5 59.6l1.9 -1.9 1.9 1.9 -1.9 1.9zM488 58.9l1.9 -1.9 1.9 1.9 -1.9 1.9zM467.1 61.2l1.9 -1.9 1.9 1.9 -1.9 1.9zM473.3 61l1.9 -1.9 1.9 1.9 -1.9 1.9zM491.5 59.6l1.9 -1.9 1.9 1.9 -1.9 1.9zM495.7 58.9l1.9 -1.9 1.9 1.9 -1.9 1.9zM501.4 21.5l1.9 -1.9 1.9 1.9 -1.9 1.9zM505.8 22.5l1.9 -1.9 1.9 1.9 -1.9 1.9zM508.7 22.5l1.9 -1.9 1.9 1.9 -1.9 1.9zM502.8 24.4l1.9 -1.9 1.9 1.9 -1.9 1.9zM497.7 24.4l1.9 -1.9 1.9 1.9 -1.9 1.9zM497 26.6l1.9 -1.9 1.9 1.9 -1.9 1.9zM505 25.8l1.9 -1.9 1.9 1.9 -1.9 1.9zM518.1 22.2l1.9 -1.9 1.9 1.9 -1.9 1.9zM519.6 23.7l1.9 -1.9 1.9 1.9 -1.9 1.9zM524 22.5l1.9 -1.9 1.9 1.9 -1.9 1.9zM524.7 24.4l1.9 -1.9 1.9 1.9 -1.9 1.9zM521.8 26.6l1.9 -1.9 1.9 1.9 -1.9 1.9zM517.4 27.3l1.9 -1.9 1.9 1.9 -1.9 1.9zM513.8 25.8l1.9 -1.9 1.9 1.9 -1.9 1.9zM512.3 28l1.9 -1.9 1.9 1.9 -1.9 1.9zM514.5 29.5l1.9 -1.9 1.9 1.9 -1.9 1.9zM509.4 28.8l1.9 -1.9 1.9 1.9 -1.9 1.9zM510.1 30.9l1.9 -1.9 1.9 1.9 -1.9 1.9zM500.7 30.9l1.9 -1.9 1.9 1.9 -1.9 1.9zM502.1 33.1l1.9 -1.9 1.9 1.9 -1.9 1.9zM499.9 35.3l1.9 -1.9 1.9 1.9 -1.9 1.9zM504.3 32.4l1.9 -1.9 1.9 1.9 -1.9 1.9zM506.5 33.9l1.9 -1.9 1.9 1.9 -1.9 1.9zM502.8 36l1.9 -1.9 1.9 1.9 -1.9 1.9zM505 36.8l1.9 -1.9 1.9 1.9 -1.9 1.9zM507.9 36l1.9 -1.9 1.9 1.9 -1.9 1.9zM495.6 30.2l1.9 -1.9 1.9 1.9 -1.9 1.9zM494.8 33.9l1.9 -1.9 1.9 1.9 -1.9 1.9zM516 32.4l1.9 -1.9 1.9 1.9 -1.9 1.9zM517.4 34.6l1.9 -1.9 1.9 1.9 -1.9 1.9zM519.6 31.7l1.9 -1.9 1.9 1.9 -1.9 1.9zM518.1 37.5l1.9 -1.9 1.9 1.9 -1.9 1.9zM515.2 39l1.9 -1.9 1.9 1.9 -1.9 1.9zM516 41.1l1.9 -1.9 1.9 1.9 -1.9 1.9zM512.3 39.7l1.9 -1.9 1.9 1.9 -1.9 1.9zM510.1 39l1.9 -1.9 1.9 1.9 -1.9 1.9zM508.7 41.1l1.9 -1.9 1.9 1.9 -1.9 1.9zM511.6 41.9l1.9 -1.9 1.9 1.9 -1.9 1.9zM509.4 43.3l1.9 -1.9 1.9 1.9 -1.9 1.9zM497 39l1.9 -1.9 1.9 1.9 -1.9 1.9zM499.2 40.4l1.9 -1.9 1.9 1.9 -1.9 1.9zM495.6 41.1l1.9 -1.9 1.9 1.9 -1.9 1.9zM501.4 40.4l1.9 -1.9 1.9 1.9 -1.9 1.9zM503.6 41.9l1.9 -1.9 1.9 1.9 -1.9 1.9zM505.8 41.1l1.9 -1.9 1.9 1.9 -1.9 1.9zM499.9 43.3l1.9 -1.9 1.9 1.9 -1.9 1.9zM500.7 45.5l1.9 -1.9 1.9 1.9 -1.9 1.9zM502.8 46.2l1.9 -1.9 1.9 1.9 -1.9 1.9zM505 45.5l1.9 -1.9 1.9 1.9 -1.9 1.9zM502.1 48.4l1.9 -1.9 1.9 1.9 -1.9 1.9zM504.3 47.7l1.9 -1.9 1.9 1.9 -1.9 1.9zM506.5 47.7l1.9 -1.9 1.9 1.9 -1.9 1.9zM498.5 49.2l1.9 -1.9 1.9 1.9 -1.9 1.9zM495.6 50.6l1.9 -1.9 1.9 1.9 -1.9 1.9zM500.7 51.3l1.9 -1.9 1.9 1.9 -1.9 1.9zM502.8 52.8l1.9 -1.9 1.9 1.9 -1.9 1.9zM505 50.6l1.9 -1.9 1.9 1.9 -1.9 1.9zM507.9 53.5l1.9 -1.9 1.9 1.9 -1.9 1.9zM501.4 55l1.9 -1.9 1.9 1.9 -1.9 1.9zM494.8 60.8l1.9 -1.9 1.9 1.9 -1.9 1.9z" fill="#000080"/>
<path d="M370.71 142.02L526.52 24.94" stroke="#000" stroke-width="1.35" fill="none"/>
</g>
<g>
<path d="M29 312.67H270.5M29 292.03H270.5M29 271.4H270.5M29 250.77H270.5M29 230.13H270.5" stroke="#909090" stroke-width="1" fill="none"/>
<path d="M28 209.5H270.5V333.3" stroke="#979797" stroke-width="1" fill="none"/>
<path d="M29 209V334.1" stroke="#9a9a9a" stroke-width="1.8" fill="none"/>
<path d="M28 333.3H271" stroke="#7c7c7c" stroke-width="1.6" fill="none"/>
<path d="M27.9 333.3h2.2M27.9 312.67h2.2M27.9 292.03h2.2M27.9 271.4h2.2M27.9 250.77h2.2M27.9 230.13h2.2M27.9 209.5h2.2" stroke="#666" stroke-width="1" fill="none"/>
<path d="M109.5 333.3v-2.8M190 333.3v-2.8" stroke="#5a5a5a" stroke-width="1" fill="none"/>
<text x="24.51 29.18 33.86 38.53" y="347.6" font-size="8.7" text-anchor="middle" stroke="#111" stroke-width=".3" transform="scale(0.92 1)">0.65</text>
<text x="114.35 119.02 123.7" y="347.6" font-size="8.7" text-anchor="middle" stroke="#111" stroke-width=".3" transform="scale(0.92 1)">0.7</text>
<text x="199.51 204.18 208.86 213.53" y="347.6" font-size="8.7" text-anchor="middle" stroke="#111" stroke-width=".3" transform="scale(0.92 1)">0.75</text>
<text x="289.35 294.02 298.7" y="347.6" font-size="8.7" text-anchor="middle" stroke="#111" stroke-width=".3" transform="scale(0.92 1)">0.8</text>
<text x="22.34" y="336.4" font-size="8.7" text-anchor="middle" stroke="#111" stroke-width=".3" transform="scale(0.92 1)">0</text>
<text x="22.34" y="315.77" font-size="8.7" text-anchor="middle" stroke="#111" stroke-width=".3" transform="scale(0.92 1)">1</text>
<text x="22.34" y="295.13" font-size="8.7" text-anchor="middle" stroke="#111" stroke-width=".3" transform="scale(0.92 1)">2</text>
<text x="22.34" y="274.5" font-size="8.7" text-anchor="middle" stroke="#111" stroke-width=".3" transform="scale(0.92 1)">3</text>
<text x="22.34" y="253.87" font-size="8.7" text-anchor="middle" stroke="#111" stroke-width=".3" transform="scale(0.92 1)">4</text>
<text x="22.34" y="233.23" font-size="8.7" text-anchor="middle" stroke="#111" stroke-width=".3" transform="scale(0.92 1)">5</text>
<text x="22.34" y="212.6" font-size="8.7" text-anchor="middle" stroke="#111" stroke-width=".3" transform="scale(0.92 1)">6</text>
<text x="126.5" y="201.8" font-size="10" textLength="44.2" lengthAdjust="spacing" stroke="#111" stroke-width=".28">September</text>
<text transform="translate(132.09 357.4) scale(0.71 1)" font-size="8" text-anchor="middle" font-weight="bold" stroke="#111" stroke-width=".32">A</text><text transform="translate(136.16 357.4) scale(0.71 1)" font-size="8" text-anchor="middle" font-weight="bold" stroke="#111" stroke-width=".32">V</text><text transform="translate(140.23 357.4) scale(0.659 1)" font-size="8" text-anchor="middle" font-weight="bold" stroke="#111" stroke-width=".32">H</text><text transform="translate(144.3 357.4) scale(0.71 1)" font-size="8" text-anchor="middle" font-weight="bold" stroke="#111" stroke-width=".32">R</text><text transform="translate(148.37 357.4) scale(0.71 1)" font-size="8" text-anchor="middle" font-weight="bold" stroke="#111" stroke-width=".32">R</text><text transform="translate(156.5 357.4) scale(0.71 1)" font-size="8" text-anchor="middle" font-weight="bold" stroke="#111" stroke-width=".32">N</text><text transform="translate(160.58 357.4) scale(0.71 1)" font-size="8" text-anchor="middle" font-weight="bold" stroke="#111" stroke-width=".32">D</text><text transform="translate(164.65 357.4) scale(0.71 1)" font-size="8" text-anchor="middle" font-weight="bold" stroke="#111" stroke-width=".32">V</text><text transform="translate(168.72 357.4) scale(0.82 1)" font-size="8" text-anchor="middle" font-weight="bold" stroke="#111" stroke-width=".32">I</text>
<g transform="translate(8.6 274.5) rotate(-90)"><text transform="translate(-16.28 2.9) scale(0.636 1)" font-size="8" text-anchor="middle" font-weight="bold" stroke="#111" stroke-width=".32">M</text><text transform="translate(-12.21 2.9) scale(0.659 1)" font-size="8" text-anchor="middle" font-weight="bold" stroke="#111" stroke-width=".32">O</text><text transform="translate(-8.14 2.9) scale(0.71 1)" font-size="8" text-anchor="middle" font-weight="bold" stroke="#111" stroke-width=".32">D</text><text transform="translate(-4.07 2.9) scale(0.82 1)" font-size="8" text-anchor="middle" font-weight="bold" stroke="#111" stroke-width=".32">I</text><text transform="translate(0 2.9) scale(0.82 1)" font-size="8" text-anchor="middle" font-weight="bold" stroke="#111" stroke-width=".32">S</text><text transform="translate(8.14 2.9) scale(0.768 1)" font-size="8" text-anchor="middle" font-weight="bold" stroke="#111" stroke-width=".32">L</text><text transform="translate(12.21 2.9) scale(0.71 1)" font-size="8" text-anchor="middle" font-weight="bold" stroke="#111" stroke-width=".32">A</text><text transform="translate(16.28 2.9) scale(0.82 1)" font-size="8" text-anchor="middle" font-weight="bold" stroke="#111" stroke-width=".32">I</text></g>
<text x="51.02 68.71 73.13 77.55 81.97 86.4 90.82 95.24 112.93 117.35 121.78 126.2 130.62 135.04 143.89 166 170.42 174.85 179.27 183.69 188.11" y="221.4" font-size="8.1" text-anchor="middle" stroke="#111" stroke-width=".22" transform="scale(0.92 1)">y36.723x24.409R0.7723</text>
<path d="M53.27 217.5h3.6M53.27 219.5h3.6M93.86 218.2h3.8M142.78 217.5h3.6M142.78 219.5h3.6" stroke="#3a3a3a" stroke-width=".75" fill="none"/>
<text x="136.15" y="218.4" font-size="5.6" text-anchor="middle" stroke="#111" stroke-width=".2">2</text>
<path d="M52.2 312.5l1.9 -1.9 1.9 1.9 -1.9 1.9zM54.6 313.2l1.9 -1.9 1.9 1.9 -1.9 1.9zM62.9 312.5l1.9 -1.9 1.9 1.9 -1.9 1.9zM65.5 311.3l1.9 -1.9 1.9 1.9 -1.9 1.9zM67.2 307.4l1.9 -1.9 1.9 1.9 -1.9 1.9zM71.6 312l1.9 -1.9 1.9 1.9 -1.9 1.9zM78.5 309.1l1.9 -1.9 1.9 1.9 -1.9 1.9zM81.4 311.7l1.9 -1.9 1.9 1.9 -1.9 1.9zM86.6 311.3l1.9 -1.9 1.9 1.9 -1.9 1.9zM90.6 295.3l1.9 -1.9 1.9 1.9 -1.9 1.9zM93.2 293.1l1.9 -1.9 1.9 1.9 -1.9 1.9zM97.6 290.6l1.9 -1.9 1.9 1.9 -1.9 1.9zM102.2 292.3l1.9 -1.9 1.9 1.9 -1.9 1.9zM101.8 297.9l1.9 -1.9 1.9 1.9 -1.9 1.9zM97.1 305l1.9 -1.9 1.9 1.9 -1.9 1.9zM95.2 308.1l1.9 -1.9 1.9 1.9 -1.9 1.9zM96.1 309.8l1.9 -1.9 1.9 1.9 -1.9 1.9zM99.3 312.5l1.9 -1.9 1.9 1.9 -1.9 1.9zM98.3 314.6l1.9 -1.9 1.9 1.9 -1.9 1.9zM102.2 311.3l1.9 -1.9 1.9 1.9 -1.9 1.9zM106.6 302.5l1.9 -1.9 1.9 1.9 -1.9 1.9zM107.8 307.6l1.9 -1.9 1.9 1.9 -1.9 1.9zM107.8 310.3l1.9 -1.9 1.9 1.9 -1.9 1.9zM112.4 293.1l1.9 -1.9 1.9 1.9 -1.9 1.9zM114.2 292.1l1.9 -1.9 1.9 1.9 -1.9 1.9zM113.1 295.6l1.9 -1.9 1.9 1.9 -1.9 1.9zM114.6 298.2l1.9 -1.9 1.9 1.9 -1.9 1.9zM116.5 299.6l1.9 -1.9 1.9 1.9 -1.9 1.9zM112.7 306.9l1.9 -1.9 1.9 1.9 -1.9 1.9zM113.1 309.1l1.9 -1.9 1.9 1.9 -1.9 1.9zM116.8 308.4l1.9 -1.9 1.9 1.9 -1.9 1.9zM116.5 310.6l1.9 -1.9 1.9 1.9 -1.9 1.9zM116.1 304l1.9 -1.9 1.9 1.9 -1.9 1.9zM194.6 255.9l1.9 -1.9 1.9 1.9 -1.9 1.9zM196.8 258.1l1.9 -1.9 1.9 1.9 -1.9 1.9zM192.4 261l1.9 -1.9 1.9 1.9 -1.9 1.9zM197.5 262.5l1.9 -1.9 1.9 1.9 -1.9 1.9zM185.1 266.8l1.9 -1.9 1.9 1.9 -1.9 1.9zM173.5 270.5l1.9 -1.9 1.9 1.9 -1.9 1.9zM177.1 272.7l1.9 -1.9 1.9 1.9 -1.9 1.9zM172.7 273.4l1.9 -1.9 1.9 1.9 -1.9 1.9zM189.5 269l1.9 -1.9 1.9 1.9 -1.9 1.9zM192.4 271.2l1.9 -1.9 1.9 1.9 -1.9 1.9zM195.3 269.8l1.9 -1.9 1.9 1.9 -1.9 1.9zM197.5 272.7l1.9 -1.9 1.9 1.9 -1.9 1.9zM194.6 274.9l1.9 -1.9 1.9 1.9 -1.9 1.9zM191 274.1l1.9 -1.9 1.9 1.9 -1.9 1.9zM188 272.7l1.9 -1.9 1.9 1.9 -1.9 1.9zM185.9 274.9l1.9 -1.9 1.9 1.9 -1.9 1.9zM183.7 273.4l1.9 -1.9 1.9 1.9 -1.9 1.9zM181.5 275.6l1.9 -1.9 1.9 1.9 -1.9 1.9zM179.3 274.1l1.9 -1.9 1.9 1.9 -1.9 1.9zM177.8 277l1.9 -1.9 1.9 1.9 -1.9 1.9zM182.2 278.5l1.9 -1.9 1.9 1.9 -1.9 1.9zM184.4 280l1.9 -1.9 1.9 1.9 -1.9 1.9zM186.6 277.8l1.9 -1.9 1.9 1.9 -1.9 1.9zM189.5 278.5l1.9 -1.9 1.9 1.9 -1.9 1.9zM191.7 277l1.9 -1.9 1.9 1.9 -1.9 1.9zM193.9 276.3l1.9 -1.9 1.9 1.9 -1.9 1.9zM188 281.4l1.9 -1.9 1.9 1.9 -1.9 1.9zM181.5 281.4l1.9 -1.9 1.9 1.9 -1.9 1.9zM168.4 275.6l1.9 -1.9 1.9 1.9 -1.9 1.9zM170.6 277l1.9 -1.9 1.9 1.9 -1.9 1.9zM172.7 278.5l1.9 -1.9 1.9 1.9 -1.9 1.9zM174.9 277l1.9 -1.9 1.9 1.9 -1.9 1.9zM176.4 280l1.9 -1.9 1.9 1.9 -1.9 1.9zM173.5 281.4l1.9 -1.9 1.9 1.9 -1.9 1.9zM171.3 282.9l1.9 -1.9 1.9 1.9 -1.9 1.9zM169.1 280.7l1.9 -1.9 1.9 1.9 -1.9 1.9zM166.9 279.2l1.9 -1.9 1.9 1.9 -1.9 1.9zM164.7 281.4l1.9 -1.9 1.9 1.9 -1.9 1.9zM162.5 280l1.9 -1.9 1.9 1.9 -1.9 1.9zM156 277l1.9 -1.9 1.9 1.9 -1.9 1.9zM157.4 280l1.9 -1.9 1.9 1.9 -1.9 1.9zM147.2 280.2l1.9 -1.9 1.9 1.9 -1.9 1.9zM152.3 283.6l1.9 -1.9 1.9 1.9 -1.9 1.9zM154.5 285.1l1.9 -1.9 1.9 1.9 -1.9 1.9zM160.4 283.6l1.9 -1.9 1.9 1.9 -1.9 1.9zM162.5 284.3l1.9 -1.9 1.9 1.9 -1.9 1.9zM164.7 285.1l1.9 -1.9 1.9 1.9 -1.9 1.9zM166.9 283.6l1.9 -1.9 1.9 1.9 -1.9 1.9zM169.1 284.3l1.9 -1.9 1.9 1.9 -1.9 1.9zM160.4 287.2l1.9 -1.9 1.9 1.9 -1.9 1.9zM161.8 289.4l1.9 -1.9 1.9 1.9 -1.9 1.9zM158.2 285.8l1.9 -1.9 1.9 1.9 -1.9 1.9zM173.5 284.3l1.9 -1.9 1.9 1.9 -1.9 1.9zM170.3 290.6l1.9 -1.9 1.9 1.9 -1.9 1.9zM175.7 296.7l1.9 -1.9 1.9 1.9 -1.9 1.9zM175.7 299.3l1.9 -1.9 1.9 1.9 -1.9 1.9zM177.8 300.8l1.9 -1.9 1.9 1.9 -1.9 1.9zM187.6 301.4l1.9 -1.9 1.9 1.9 -1.9 1.9zM166.9 300.4l1.9 -1.9 1.9 1.9 -1.9 1.9zM162.5 303.3l1.9 -1.9 1.9 1.9 -1.9 1.9zM158.9 301.8l1.9 -1.9 1.9 1.9 -1.9 1.9zM161.4 296.4l1.9 -1.9 1.9 1.9 -1.9 1.9zM126.8 286.5l1.9 -1.9 1.9 1.9 -1.9 1.9zM134.9 285.8l1.9 -1.9 1.9 1.9 -1.9 1.9zM140 286.5l1.9 -1.9 1.9 1.9 -1.9 1.9zM144.3 287.2l1.9 -1.9 1.9 1.9 -1.9 1.9zM146.5 288.7l1.9 -1.9 1.9 1.9 -1.9 1.9zM148.7 285.8l1.9 -1.9 1.9 1.9 -1.9 1.9zM150.2 288l1.9 -1.9 1.9 1.9 -1.9 1.9zM120.3 288.7l1.9 -1.9 1.9 1.9 -1.9 1.9zM123.2 290.9l1.9 -1.9 1.9 1.9 -1.9 1.9zM127.6 290.9l1.9 -1.9 1.9 1.9 -1.9 1.9zM132.7 289.4l1.9 -1.9 1.9 1.9 -1.9 1.9zM134.9 291.6l1.9 -1.9 1.9 1.9 -1.9 1.9zM137.8 289.4l1.9 -1.9 1.9 1.9 -1.9 1.9zM145.1 291.6l1.9 -1.9 1.9 1.9 -1.9 1.9zM147.2 293.8l1.9 -1.9 1.9 1.9 -1.9 1.9zM149.4 290.9l1.9 -1.9 1.9 1.9 -1.9 1.9zM151.6 293.1l1.9 -1.9 1.9 1.9 -1.9 1.9zM153.8 291.6l1.9 -1.9 1.9 1.9 -1.9 1.9zM156 292.3l1.9 -1.9 1.9 1.9 -1.9 1.9zM157.4 294.5l1.9 -1.9 1.9 1.9 -1.9 1.9zM119.6 294.5l1.9 -1.9 1.9 1.9 -1.9 1.9zM122.5 296.7l1.9 -1.9 1.9 1.9 -1.9 1.9zM125.4 295.3l1.9 -1.9 1.9 1.9 -1.9 1.9zM128.3 297.4l1.9 -1.9 1.9 1.9 -1.9 1.9zM131.2 296l1.9 -1.9 1.9 1.9 -1.9 1.9zM133.4 295.3l1.9 -1.9 1.9 1.9 -1.9 1.9zM137 296.7l1.9 -1.9 1.9 1.9 -1.9 1.9zM139.2 294.5l1.9 -1.9 1.9 1.9 -1.9 1.9zM141.4 295.3l1.9 -1.9 1.9 1.9 -1.9 1.9zM142.9 297.4l1.9 -1.9 1.9 1.9 -1.9 1.9zM145.1 296.7l1.9 -1.9 1.9 1.9 -1.9 1.9zM146.5 299.6l1.9 -1.9 1.9 1.9 -1.9 1.9zM148.7 298.2l1.9 -1.9 1.9 1.9 -1.9 1.9zM154.5 299.6l1.9 -1.9 1.9 1.9 -1.9 1.9zM155.3 297.4l1.9 -1.9 1.9 1.9 -1.9 1.9zM137.8 299.6l1.9 -1.9 1.9 1.9 -1.9 1.9zM140 301.1l1.9 -1.9 1.9 1.9 -1.9 1.9zM142.1 299.6l1.9 -1.9 1.9 1.9 -1.9 1.9zM143.6 301.8l1.9 -1.9 1.9 1.9 -1.9 1.9zM147.2 302.5l1.9 -1.9 1.9 1.9 -1.9 1.9zM149.4 304.3l1.9 -1.9 1.9 1.9 -1.9 1.9zM119.6 301.1l1.9 -1.9 1.9 1.9 -1.9 1.9zM121.7 303.3l1.9 -1.9 1.9 1.9 -1.9 1.9zM124.7 302.5l1.9 -1.9 1.9 1.9 -1.9 1.9zM126.1 304.7l1.9 -1.9 1.9 1.9 -1.9 1.9zM129 303.3l1.9 -1.9 1.9 1.9 -1.9 1.9zM131.2 301.8l1.9 -1.9 1.9 1.9 -1.9 1.9zM133.4 303.3l1.9 -1.9 1.9 1.9 -1.9 1.9zM134.9 305.5l1.9 -1.9 1.9 1.9 -1.9 1.9zM137 304l1.9 -1.9 1.9 1.9 -1.9 1.9zM118.8 306.2l1.9 -1.9 1.9 1.9 -1.9 1.9zM121 307.6l1.9 -1.9 1.9 1.9 -1.9 1.9zM123.9 306.9l1.9 -1.9 1.9 1.9 -1.9 1.9zM126.8 307.6l1.9 -1.9 1.9 1.9 -1.9 1.9zM129.8 307.6l1.9 -1.9 1.9 1.9 -1.9 1.9zM132.7 306.9l1.9 -1.9 1.9 1.9 -1.9 1.9zM136.3 308.1l1.9 -1.9 1.9 1.9 -1.9 1.9zM139.2 306.2l1.9 -1.9 1.9 1.9 -1.9 1.9zM118.8 309.1l1.9 -1.9 1.9 1.9 -1.9 1.9zM125.4 312.7l1.9 -1.9 1.9 1.9 -1.9 1.9zM138.5 314.2l1.9 -1.9 1.9 1.9 -1.9 1.9zM144 312l1.9 -1.9 1.9 1.9 -1.9 1.9zM197.6 231.8l1.9 -1.9 1.9 1.9 -1.9 1.9zM199 233.9l1.9 -1.9 1.9 1.9 -1.9 1.9zM200.5 236.1l1.9 -1.9 1.9 1.9 -1.9 1.9zM207.8 232.5l1.9 -1.9 1.9 1.9 -1.9 1.9zM209.2 233.2l1.9 -1.9 1.9 1.9 -1.9 1.9zM204.1 237.6l1.9 -1.9 1.9 1.9 -1.9 1.9zM207 238.3l1.9 -1.9 1.9 1.9 -1.9 1.9zM208.5 240.5l1.9 -1.9 1.9 1.9 -1.9 1.9zM214.3 232.5l1.9 -1.9 1.9 1.9 -1.9 1.9zM216.5 233.2l1.9 -1.9 1.9 1.9 -1.9 1.9zM218 234.7l1.9 -1.9 1.9 1.9 -1.9 1.9zM215.1 236.1l1.9 -1.9 1.9 1.9 -1.9 1.9zM212.9 237.6l1.9 -1.9 1.9 1.9 -1.9 1.9zM216.5 238.3l1.9 -1.9 1.9 1.9 -1.9 1.9zM220.2 236.9l1.9 -1.9 1.9 1.9 -1.9 1.9zM222.3 233.9l1.9 -1.9 1.9 1.9 -1.9 1.9zM223.8 236.1l1.9 -1.9 1.9 1.9 -1.9 1.9zM226 235.4l1.9 -1.9 1.9 1.9 -1.9 1.9zM228.2 236.9l1.9 -1.9 1.9 1.9 -1.9 1.9zM230.4 235.4l1.9 -1.9 1.9 1.9 -1.9 1.9zM231.8 236.1l1.9 -1.9 1.9 1.9 -1.9 1.9zM226.7 239l1.9 -1.9 1.9 1.9 -1.9 1.9zM224.5 239.8l1.9 -1.9 1.9 1.9 -1.9 1.9zM235.5 239l1.9 -1.9 1.9 1.9 -1.9 1.9zM232.5 241.2l1.9 -1.9 1.9 1.9 -1.9 1.9zM238.8 233.7l1.9 -1.9 1.9 1.9 -1.9 1.9zM244.9 233.7l1.9 -1.9 1.9 1.9 -1.9 1.9zM193.2 237.6l1.9 -1.9 1.9 1.9 -1.9 1.9zM194.7 240.5l1.9 -1.9 1.9 1.9 -1.9 1.9zM198.3 240.5l1.9 -1.9 1.9 1.9 -1.9 1.9zM188.8 242l1.9 -1.9 1.9 1.9 -1.9 1.9zM191.7 247.8l1.9 -1.9 1.9 1.9 -1.9 1.9zM202.7 246.3l1.9 -1.9 1.9 1.9 -1.9 1.9zM207 242.7l1.9 -1.9 1.9 1.9 -1.9 1.9zM209.2 244.1l1.9 -1.9 1.9 1.9 -1.9 1.9zM211.4 242l1.9 -1.9 1.9 1.9 -1.9 1.9zM213.6 243.4l1.9 -1.9 1.9 1.9 -1.9 1.9zM215.8 242l1.9 -1.9 1.9 1.9 -1.9 1.9zM218 243.4l1.9 -1.9 1.9 1.9 -1.9 1.9zM220.2 241.2l1.9 -1.9 1.9 1.9 -1.9 1.9zM222.3 242.7l1.9 -1.9 1.9 1.9 -1.9 1.9zM224.5 243.4l1.9 -1.9 1.9 1.9 -1.9 1.9zM226.7 242l1.9 -1.9 1.9 1.9 -1.9 1.9zM228.9 244.1l1.9 -1.9 1.9 1.9 -1.9 1.9zM231.1 242.7l1.9 -1.9 1.9 1.9 -1.9 1.9zM233.3 242l1.9 -1.9 1.9 1.9 -1.9 1.9zM207.8 246.3l1.9 -1.9 1.9 1.9 -1.9 1.9zM210 247.8l1.9 -1.9 1.9 1.9 -1.9 1.9zM214.3 246.3l1.9 -1.9 1.9 1.9 -1.9 1.9zM216.5 247.8l1.9 -1.9 1.9 1.9 -1.9 1.9zM218.7 245.6l1.9 -1.9 1.9 1.9 -1.9 1.9zM220.9 247.1l1.9 -1.9 1.9 1.9 -1.9 1.9zM223.1 245.6l1.9 -1.9 1.9 1.9 -1.9 1.9zM225.3 246.3l1.9 -1.9 1.9 1.9 -1.9 1.9zM227.4 247.8l1.9 -1.9 1.9 1.9 -1.9 1.9zM229.6 246.3l1.9 -1.9 1.9 1.9 -1.9 1.9zM237.6 243.4l1.9 -1.9 1.9 1.9 -1.9 1.9zM244.6 245.3l1.9 -1.9 1.9 1.9 -1.9 1.9zM215.1 250l1.9 -1.9 1.9 1.9 -1.9 1.9zM217.2 249.2l1.9 -1.9 1.9 1.9 -1.9 1.9zM219.4 250.7l1.9 -1.9 1.9 1.9 -1.9 1.9zM221.6 250l1.9 -1.9 1.9 1.9 -1.9 1.9zM223.8 249.2l1.9 -1.9 1.9 1.9 -1.9 1.9zM226 251.4l1.9 -1.9 1.9 1.9 -1.9 1.9zM228.2 250l1.9 -1.9 1.9 1.9 -1.9 1.9zM230.4 250.7l1.9 -1.9 1.9 1.9 -1.9 1.9zM231.8 249.2l1.9 -1.9 1.9 1.9 -1.9 1.9zM236.9 250l1.9 -1.9 1.9 1.9 -1.9 1.9zM239.8 250l1.9 -1.9 1.9 1.9 -1.9 1.9zM242.7 251.4l1.9 -1.9 1.9 1.9 -1.9 1.9zM250 251.4l1.9 -1.9 1.9 1.9 -1.9 1.9zM252.9 248.2l1.9 -1.9 1.9 1.9 -1.9 1.9zM255.1 249.2l1.9 -1.9 1.9 1.9 -1.9 1.9zM201.2 250.7l1.9 -1.9 1.9 1.9 -1.9 1.9zM202.7 252.9l1.9 -1.9 1.9 1.9 -1.9 1.9zM199.8 255.1l1.9 -1.9 1.9 1.9 -1.9 1.9zM210 250.7l1.9 -1.9 1.9 1.9 -1.9 1.9zM212.1 252.2l1.9 -1.9 1.9 1.9 -1.9 1.9zM214.3 253.6l1.9 -1.9 1.9 1.9 -1.9 1.9zM216.5 252.2l1.9 -1.9 1.9 1.9 -1.9 1.9zM218.7 253.6l1.9 -1.9 1.9 1.9 -1.9 1.9zM220.9 252.9l1.9 -1.9 1.9 1.9 -1.9 1.9zM223.1 254.3l1.9 -1.9 1.9 1.9 -1.9 1.9zM226 253.6l1.9 -1.9 1.9 1.9 -1.9 1.9zM228.2 254.3l1.9 -1.9 1.9 1.9 -1.9 1.9zM231.1 253.6l1.9 -1.9 1.9 1.9 -1.9 1.9zM234.7 252.9l1.9 -1.9 1.9 1.9 -1.9 1.9zM238.4 253.6l1.9 -1.9 1.9 1.9 -1.9 1.9zM241.3 254.3l1.9 -1.9 1.9 1.9 -1.9 1.9zM242.7 253.6l1.9 -1.9 1.9 1.9 -1.9 1.9zM201.9 256.5l1.9 -1.9 1.9 1.9 -1.9 1.9zM204.1 258l1.9 -1.9 1.9 1.9 -1.9 1.9zM206.3 256.5l1.9 -1.9 1.9 1.9 -1.9 1.9zM208.5 255.8l1.9 -1.9 1.9 1.9 -1.9 1.9zM210.7 257.3l1.9 -1.9 1.9 1.9 -1.9 1.9zM212.9 255.8l1.9 -1.9 1.9 1.9 -1.9 1.9zM215.1 257.3l1.9 -1.9 1.9 1.9 -1.9 1.9zM217.2 256.5l1.9 -1.9 1.9 1.9 -1.9 1.9zM219.4 258l1.9 -1.9 1.9 1.9 -1.9 1.9zM221.6 256.5l1.9 -1.9 1.9 1.9 -1.9 1.9zM223.8 257.3l1.9 -1.9 1.9 1.9 -1.9 1.9zM226.7 258l1.9 -1.9 1.9 1.9 -1.9 1.9zM231.8 258.7l1.9 -1.9 1.9 1.9 -1.9 1.9zM236.9 256.5l1.9 -1.9 1.9 1.9 -1.9 1.9zM240.6 258.7l1.9 -1.9 1.9 1.9 -1.9 1.9zM237.6 261.3l1.9 -1.9 1.9 1.9 -1.9 1.9zM199 260.2l1.9 -1.9 1.9 1.9 -1.9 1.9zM201.2 261.6l1.9 -1.9 1.9 1.9 -1.9 1.9zM203.4 260.2l1.9 -1.9 1.9 1.9 -1.9 1.9zM205.6 261.6l1.9 -1.9 1.9 1.9 -1.9 1.9zM207.8 259.4l1.9 -1.9 1.9 1.9 -1.9 1.9zM210 260.9l1.9 -1.9 1.9 1.9 -1.9 1.9zM212.1 259.4l1.9 -1.9 1.9 1.9 -1.9 1.9zM214.3 260.9l1.9 -1.9 1.9 1.9 -1.9 1.9zM216.5 260.2l1.9 -1.9 1.9 1.9 -1.9 1.9zM218.7 261.6l1.9 -1.9 1.9 1.9 -1.9 1.9zM220.9 260.2l1.9 -1.9 1.9 1.9 -1.9 1.9zM223.1 261.6l1.9 -1.9 1.9 1.9 -1.9 1.9zM227.4 260.9l1.9 -1.9 1.9 1.9 -1.9 1.9zM198.3 265.3l1.9 -1.9 1.9 1.9 -1.9 1.9zM200.5 266.7l1.9 -1.9 1.9 1.9 -1.9 1.9zM202.7 264.5l1.9 -1.9 1.9 1.9 -1.9 1.9zM204.9 266l1.9 -1.9 1.9 1.9 -1.9 1.9zM207 263.8l1.9 -1.9 1.9 1.9 -1.9 1.9zM209.2 265.3l1.9 -1.9 1.9 1.9 -1.9 1.9zM211.4 263.8l1.9 -1.9 1.9 1.9 -1.9 1.9zM213.6 263.1l1.9 -1.9 1.9 1.9 -1.9 1.9zM215.8 264.5l1.9 -1.9 1.9 1.9 -1.9 1.9zM218 263.8l1.9 -1.9 1.9 1.9 -1.9 1.9zM220.2 265.3l1.9 -1.9 1.9 1.9 -1.9 1.9zM222.3 264.5l1.9 -1.9 1.9 1.9 -1.9 1.9zM224.5 266l1.9 -1.9 1.9 1.9 -1.9 1.9zM226.7 267.5l1.9 -1.9 1.9 1.9 -1.9 1.9zM223.8 268.2l1.9 -1.9 1.9 1.9 -1.9 1.9zM198.3 269.6l1.9 -1.9 1.9 1.9 -1.9 1.9zM200.5 271.1l1.9 -1.9 1.9 1.9 -1.9 1.9zM202.7 268.9l1.9 -1.9 1.9 1.9 -1.9 1.9zM204.9 270.4l1.9 -1.9 1.9 1.9 -1.9 1.9zM207 268.2l1.9 -1.9 1.9 1.9 -1.9 1.9zM209.2 269.6l1.9 -1.9 1.9 1.9 -1.9 1.9zM210.7 267.5l1.9 -1.9 1.9 1.9 -1.9 1.9zM208.5 271.8l1.9 -1.9 1.9 1.9 -1.9 1.9zM199 274l1.9 -1.9 1.9 1.9 -1.9 1.9zM201.9 273.3l1.9 -1.9 1.9 1.9 -1.9 1.9zM205.6 275.5l1.9 -1.9 1.9 1.9 -1.9 1.9zM199.8 276.2l1.9 -1.9 1.9 1.9 -1.9 1.9zM178.7 242.5l1.9 -1.9 1.9 1.9 -1.9 1.9zM187.6 239.3l1.9 -1.9 1.9 1.9 -1.9 1.9zM187.3 244.2l1.9 -1.9 1.9 1.9 -1.9 1.9zM187.3 249.5l1.9 -1.9 1.9 1.9 -1.9 1.9zM185 251.9l1.9 -1.9 1.9 1.9 -1.9 1.9z" fill="#000080"/>
<path d="M52.67 333.28L257.62 236.83" stroke="#000" stroke-width="1.35" fill="none"/>
</g>
<g>
<path d="M323 316.41H563M323 298.43H563M323 280.44H563M323 262.46H563M323 244.47H563M323 226.49H563" stroke="#909090" stroke-width="1" fill="none"/>
<path d="M322 208.5H563V334.4" stroke="#979797" stroke-width="1" fill="none"/>
<path d="M323 208V335.2" stroke="#9a9a9a" stroke-width="1.8" fill="none"/>
<path d="M322 334.4H563.5" stroke="#7c7c7c" stroke-width="1.6" fill="none"/>
<path d="M321.9 334.4h2.2M321.9 316.41h2.2M321.9 298.43h2.2M321.9 280.44h2.2M321.9 262.46h2.2M321.9 244.47h2.2M321.9 226.49h2.2M321.9 208.5h2.2" stroke="#666" stroke-width="1" fill="none"/>
<path d="M383 334.4v-2.8M443 334.4v-2.8M503 334.4v-2.8" stroke="#5a5a5a" stroke-width="1" fill="none"/>
<text x="344.08 348.75 353.42 358.1" y="349.2" font-size="8.7" text-anchor="middle" stroke="#111" stroke-width=".3" transform="scale(0.92 1)">0.55</text>
<text x="411.63 416.3 420.98" y="349.2" font-size="8.7" text-anchor="middle" stroke="#111" stroke-width=".3" transform="scale(0.92 1)">0.6</text>
<text x="474.51 479.18 483.86 488.53" y="349.2" font-size="8.7" text-anchor="middle" stroke="#111" stroke-width=".3" transform="scale(0.92 1)">0.65</text>
<text x="542.07 546.74 551.41" y="349.2" font-size="8.7" text-anchor="middle" stroke="#111" stroke-width=".3" transform="scale(0.92 1)">0.7</text>
<text x="604.95 609.62 614.29 618.97" y="349.2" font-size="8.7" text-anchor="middle" stroke="#111" stroke-width=".3" transform="scale(0.92 1)">0.75</text>
<text x="341.25" y="337.5" font-size="8.7" text-anchor="middle" stroke="#111" stroke-width=".3" transform="scale(0.92 1)">0</text>
<text x="331.9 336.58 341.25" y="319.51" font-size="8.7" text-anchor="middle" stroke="#111" stroke-width=".3" transform="scale(0.92 1)">0.5</text>
<text x="341.25" y="301.53" font-size="8.7" text-anchor="middle" stroke="#111" stroke-width=".3" transform="scale(0.92 1)">1</text>
<text x="331.9 336.58 341.25" y="283.54" font-size="8.7" text-anchor="middle" stroke="#111" stroke-width=".3" transform="scale(0.92 1)">1.5</text>
<text x="341.25" y="265.56" font-size="8.7" text-anchor="middle" stroke="#111" stroke-width=".3" transform="scale(0.92 1)">2</text>
<text x="331.9 336.58 341.25" y="247.57" font-size="8.7" text-anchor="middle" stroke="#111" stroke-width=".3" transform="scale(0.92 1)">2.5</text>
<text x="341.25" y="229.59" font-size="8.7" text-anchor="middle" stroke="#111" stroke-width=".3" transform="scale(0.92 1)">3</text>
<text x="331.9 336.58 341.25" y="211.6" font-size="8.7" text-anchor="middle" stroke="#111" stroke-width=".3" transform="scale(0.92 1)">3.5</text>
<text x="420.1" y="202.1" font-size="10" textLength="35" lengthAdjust="spacing" stroke="#111" stroke-width=".28">October</text>
<text transform="translate(426.69 358.5) scale(0.71 1)" font-size="8" text-anchor="middle" font-weight="bold" stroke="#111" stroke-width=".32">A</text><text transform="translate(430.75 358.5) scale(0.71 1)" font-size="8" text-anchor="middle" font-weight="bold" stroke="#111" stroke-width=".32">V</text><text transform="translate(434.82 358.5) scale(0.659 1)" font-size="8" text-anchor="middle" font-weight="bold" stroke="#111" stroke-width=".32">H</text><text transform="translate(438.89 358.5) scale(0.71 1)" font-size="8" text-anchor="middle" font-weight="bold" stroke="#111" stroke-width=".32">R</text><text transform="translate(442.97 358.5) scale(0.71 1)" font-size="8" text-anchor="middle" font-weight="bold" stroke="#111" stroke-width=".32">R</text><text transform="translate(451.11 358.5) scale(0.71 1)" font-size="8" text-anchor="middle" font-weight="bold" stroke="#111" stroke-width=".32">N</text><text transform="translate(455.18 358.5) scale(0.71 1)" font-size="8" text-anchor="middle" font-weight="bold" stroke="#111" stroke-width=".32">D</text><text transform="translate(459.25 358.5) scale(0.71 1)" font-size="8" text-anchor="middle" font-weight="bold" stroke="#111" stroke-width=".32">V</text><text transform="translate(463.31 358.5) scale(0.82 1)" font-size="8" text-anchor="middle" font-weight="bold" stroke="#111" stroke-width=".32">I</text>
<g transform="translate(296.5 274.9) rotate(-90)"><text transform="translate(-16.28 2.9) scale(0.636 1)" font-size="8" text-anchor="middle" font-weight="bold" stroke="#111" stroke-width=".32">M</text><text transform="translate(-12.21 2.9) scale(0.659 1)" font-size="8" text-anchor="middle" font-weight="bold" stroke="#111" stroke-width=".32">O</text><text transform="translate(-8.14 2.9) scale(0.71 1)" font-size="8" text-anchor="middle" font-weight="bold" stroke="#111" stroke-width=".32">D</text><text transform="translate(-4.07 2.9) scale(0.82 1)" font-size="8" text-anchor="middle" font-weight="bold" stroke="#111" stroke-width=".32">I</text><text transform="translate(0 2.9) scale(0.82 1)" font-size="8" text-anchor="middle" font-weight="bold" stroke="#111" stroke-width=".32">S</text><text transform="translate(8.14 2.9) scale(0.768 1)" font-size="8" text-anchor="middle" font-weight="bold" stroke="#111" stroke-width=".32">L</text><text transform="translate(12.21 2.9) scale(0.71 1)" font-size="8" text-anchor="middle" font-weight="bold" stroke="#111" stroke-width=".32">A</text><text transform="translate(16.28 2.9) scale(0.82 1)" font-size="8" text-anchor="middle" font-weight="bold" stroke="#111" stroke-width=".32">I</text></g>
<text x="371.69 389.57 394.04 398.52 402.99 407.46 411.93 416.4 434.28 438.75 443.22 447.69 452.16 461.1 483.46 487.93 492.4 496.87 501.34 505.81" y="220" font-size="8.1" text-anchor="middle" stroke="#111" stroke-width=".22" transform="scale(0.92 1)">y25.446x14.65R0.7609</text>
<path d="M348.38 215.5h3.6M348.38 217.5h3.6M389.41 216.8h3.8M434.75 215.5h3.6M434.75 217.5h3.6" stroke="#3a3a3a" stroke-width=".75" fill="none"/>
<text x="428.03" y="217" font-size="5.6" text-anchor="middle" stroke="#111" stroke-width=".2">2</text>
<path d="M349 315.9l1.9 -1.9 1.9 1.9 -1.9 1.9zM352.2 313.7l1.9 -1.9 1.9 1.9 -1.9 1.9zM353.1 309.4l1.9 -1.9 1.9 1.9 -1.9 1.9zM358.1 314.2l1.9 -1.9 1.9 1.9 -1.9 1.9zM361 306.2l1.9 -1.9 1.9 1.9 -1.9 1.9zM365.1 316.4l1.9 -1.9 1.9 1.9 -1.9 1.9zM365.5 304.6l1.9 -1.9 1.9 1.9 -1.9 1.9zM369.7 313.5l1.9 -1.9 1.9 1.9 -1.9 1.9zM370.9 307.2l1.9 -1.9 1.9 1.9 -1.9 1.9zM372.3 311.6l1.9 -1.9 1.9 1.9 -1.9 1.9zM373.1 309.4l1.9 -1.9 1.9 1.9 -1.9 1.9zM375.7 307.9l1.9 -1.9 1.9 1.9 -1.9 1.9zM376 310.1l1.9 -1.9 1.9 1.9 -1.9 1.9zM381.1 311.3l1.9 -1.9 1.9 1.9 -1.9 1.9zM387.6 301.4l1.9 -1.9 1.9 1.9 -1.9 1.9zM386.9 306.5l1.9 -1.9 1.9 1.9 -1.9 1.9zM391.3 307.6l1.9 -1.9 1.9 1.9 -1.9 1.9zM389.1 312.3l1.9 -1.9 1.9 1.9 -1.9 1.9zM390.6 314.5l1.9 -1.9 1.9 1.9 -1.9 1.9zM392.7 302.1l1.9 -1.9 1.9 1.9 -1.9 1.9zM394.2 300.6l1.9 -1.9 1.9 1.9 -1.9 1.9zM395.7 299.5l1.9 -1.9 1.9 1.9 -1.9 1.9zM397.6 301.4l1.9 -1.9 1.9 1.9 -1.9 1.9zM394.9 305l1.9 -1.9 1.9 1.9 -1.9 1.9zM396.4 308.6l1.9 -1.9 1.9 1.9 -1.9 1.9zM398.6 310.8l1.9 -1.9 1.9 1.9 -1.9 1.9zM400.8 300.9l1.9 -1.9 1.9 1.9 -1.9 1.9zM401.9 302.8l1.9 -1.9 1.9 1.9 -1.9 1.9zM402.9 306.2l1.9 -1.9 1.9 1.9 -1.9 1.9zM402.2 309.1l1.9 -1.9 1.9 1.9 -1.9 1.9zM405.1 303.5l1.9 -1.9 1.9 1.9 -1.9 1.9zM406.6 305.3l1.9 -1.9 1.9 1.9 -1.9 1.9zM405.9 293.3l1.9 -1.9 1.9 1.9 -1.9 1.9zM406.6 297.7l1.9 -1.9 1.9 1.9 -1.9 1.9zM409.5 299.2l1.9 -1.9 1.9 1.9 -1.9 1.9zM411.7 295.5l1.9 -1.9 1.9 1.9 -1.9 1.9zM413.1 297l1.9 -1.9 1.9 1.9 -1.9 1.9zM414.6 294.8l1.9 -1.9 1.9 1.9 -1.9 1.9zM412.4 301.4l1.9 -1.9 1.9 1.9 -1.9 1.9zM413.1 304.3l1.9 -1.9 1.9 1.9 -1.9 1.9zM413.9 291.9l1.9 -1.9 1.9 1.9 -1.9 1.9zM416.1 297.7l1.9 -1.9 1.9 1.9 -1.9 1.9zM417.5 299.9l1.9 -1.9 1.9 1.9 -1.9 1.9zM416.8 288.2l1.9 -1.9 1.9 1.9 -1.9 1.9zM417.5 293.3l1.9 -1.9 1.9 1.9 -1.9 1.9zM416.1 310.5l1.9 -1.9 1.9 1.9 -1.9 1.9zM413.4 315.5l1.9 -1.9 1.9 1.9 -1.9 1.9zM468.4 255.7l1.9 -1.9 1.9 1.9 -1.9 1.9zM466.2 258.4l1.9 -1.9 1.9 1.9 -1.9 1.9zM464 260.6l1.9 -1.9 1.9 1.9 -1.9 1.9zM461.8 259.1l1.9 -1.9 1.9 1.9 -1.9 1.9zM459.6 257.6l1.9 -1.9 1.9 1.9 -1.9 1.9zM457.4 259.8l1.9 -1.9 1.9 1.9 -1.9 1.9zM461.8 262l1.9 -1.9 1.9 1.9 -1.9 1.9zM458.9 262.7l1.9 -1.9 1.9 1.9 -1.9 1.9zM456.7 264.9l1.9 -1.9 1.9 1.9 -1.9 1.9zM458.2 266.4l1.9 -1.9 1.9 1.9 -1.9 1.9zM444.3 255.5l1.9 -1.9 1.9 1.9 -1.9 1.9zM446.5 256.9l1.9 -1.9 1.9 1.9 -1.9 1.9zM448.7 255.5l1.9 -1.9 1.9 1.9 -1.9 1.9zM450.9 256.9l1.9 -1.9 1.9 1.9 -1.9 1.9zM444.3 259.8l1.9 -1.9 1.9 1.9 -1.9 1.9zM446.5 261.3l1.9 -1.9 1.9 1.9 -1.9 1.9zM448.7 259.8l1.9 -1.9 1.9 1.9 -1.9 1.9zM450.9 259.1l1.9 -1.9 1.9 1.9 -1.9 1.9zM453.1 258.4l1.9 -1.9 1.9 1.9 -1.9 1.9zM454.5 256.2l1.9 -1.9 1.9 1.9 -1.9 1.9zM445.1 264.2l1.9 -1.9 1.9 1.9 -1.9 1.9zM447.2 265.7l1.9 -1.9 1.9 1.9 -1.9 1.9zM449.4 264.2l1.9 -1.9 1.9 1.9 -1.9 1.9zM451.6 262.7l1.9 -1.9 1.9 1.9 -1.9 1.9zM453.8 264.2l1.9 -1.9 1.9 1.9 -1.9 1.9zM453.1 267.1l1.9 -1.9 1.9 1.9 -1.9 1.9zM450.9 267.8l1.9 -1.9 1.9 1.9 -1.9 1.9zM448.7 268.6l1.9 -1.9 1.9 1.9 -1.9 1.9zM453.8 269.3l1.9 -1.9 1.9 1.9 -1.9 1.9zM441.4 267.8l1.9 -1.9 1.9 1.9 -1.9 1.9zM443.6 269.3l1.9 -1.9 1.9 1.9 -1.9 1.9zM445.8 268.6l1.9 -1.9 1.9 1.9 -1.9 1.9zM439.2 270.8l1.9 -1.9 1.9 1.9 -1.9 1.9zM441.4 271.5l1.9 -1.9 1.9 1.9 -1.9 1.9zM443.6 272.2l1.9 -1.9 1.9 1.9 -1.9 1.9zM446.5 272.9l1.9 -1.9 1.9 1.9 -1.9 1.9zM450.2 274.1l1.9 -1.9 1.9 1.9 -1.9 1.9zM436.3 270l1.9 -1.9 1.9 1.9 -1.9 1.9zM437 272.9l1.9 -1.9 1.9 1.9 -1.9 1.9zM439.2 273.7l1.9 -1.9 1.9 1.9 -1.9 1.9zM440.7 275.9l1.9 -1.9 1.9 1.9 -1.9 1.9zM442.9 275.9l1.9 -1.9 1.9 1.9 -1.9 1.9zM445.1 280.2l1.9 -1.9 1.9 1.9 -1.9 1.9zM432.7 275.9l1.9 -1.9 1.9 1.9 -1.9 1.9zM434.9 277.3l1.9 -1.9 1.9 1.9 -1.9 1.9zM437 278l1.9 -1.9 1.9 1.9 -1.9 1.9zM439.2 279.5l1.9 -1.9 1.9 1.9 -1.9 1.9zM431.9 278.8l1.9 -1.9 1.9 1.9 -1.9 1.9zM434.1 280.2l1.9 -1.9 1.9 1.9 -1.9 1.9zM436.3 281l1.9 -1.9 1.9 1.9 -1.9 1.9zM438.5 282.4l1.9 -1.9 1.9 1.9 -1.9 1.9zM428.3 280.2l1.9 -1.9 1.9 1.9 -1.9 1.9zM430.5 281.7l1.9 -1.9 1.9 1.9 -1.9 1.9zM432.7 282.4l1.9 -1.9 1.9 1.9 -1.9 1.9zM426.8 283.1l1.9 -1.9 1.9 1.9 -1.9 1.9zM429 284.6l1.9 -1.9 1.9 1.9 -1.9 1.9zM424.7 285.3l1.9 -1.9 1.9 1.9 -1.9 1.9zM422.5 286.8l1.9 -1.9 1.9 1.9 -1.9 1.9zM426.1 286.8l1.9 -1.9 1.9 1.9 -1.9 1.9zM420.3 288.2l1.9 -1.9 1.9 1.9 -1.9 1.9zM423.2 289.7l1.9 -1.9 1.9 1.9 -1.9 1.9zM425.4 289l1.9 -1.9 1.9 1.9 -1.9 1.9zM419.6 291.2l1.9 -1.9 1.9 1.9 -1.9 1.9zM421.7 291.9l1.9 -1.9 1.9 1.9 -1.9 1.9zM428.3 291.6l1.9 -1.9 1.9 1.9 -1.9 1.9zM429.8 291.2l1.9 -1.9 1.9 1.9 -1.9 1.9zM426.1 293.3l1.9 -1.9 1.9 1.9 -1.9 1.9zM418.8 294.8l1.9 -1.9 1.9 1.9 -1.9 1.9zM421 294.1l1.9 -1.9 1.9 1.9 -1.9 1.9zM423.2 295.5l1.9 -1.9 1.9 1.9 -1.9 1.9zM422.5 297.7l1.9 -1.9 1.9 1.9 -1.9 1.9zM419.6 299.2l1.9 -1.9 1.9 1.9 -1.9 1.9zM418.8 302.8l1.9 -1.9 1.9 1.9 -1.9 1.9zM431.2 228.1l1.9 -1.9 1.9 1.9 -1.9 1.9zM440.4 228.1l1.9 -1.9 1.9 1.9 -1.9 1.9zM454.4 226.7l1.9 -1.9 1.9 1.9 -1.9 1.9zM465.4 226.7l1.9 -1.9 1.9 1.9 -1.9 1.9zM490.3 227.1l1.9 -1.9 1.9 1.9 -1.9 1.9zM495 226.3l1.9 -1.9 1.9 1.9 -1.9 1.9zM497.8 229.1l1.9 -1.9 1.9 1.9 -1.9 1.9zM500.8 228.8l1.9 -1.9 1.9 1.9 -1.9 1.9zM492.2 230.2l1.9 -1.9 1.9 1.9 -1.9 1.9zM496.6 230.9l1.9 -1.9 1.9 1.9 -1.9 1.9zM437.6 230.9l1.9 -1.9 1.9 1.9 -1.9 1.9zM443.5 231.3l1.9 -1.9 1.9 1.9 -1.9 1.9zM439.3 234.4l1.9 -1.9 1.9 1.9 -1.9 1.9zM447.7 234.4l1.9 -1.9 1.9 1.9 -1.9 1.9zM439 237.4l1.9 -1.9 1.9 1.9 -1.9 1.9zM447 238.8l1.9 -1.9 1.9 1.9 -1.9 1.9zM451.2 238.6l1.9 -1.9 1.9 1.9 -1.9 1.9zM454 236l1.9 -1.9 1.9 1.9 -1.9 1.9zM461.7 229.9l1.9 -1.9 1.9 1.9 -1.9 1.9zM465.9 230.6l1.9 -1.9 1.9 1.9 -1.9 1.9zM468.7 232.3l1.9 -1.9 1.9 1.9 -1.9 1.9zM470.8 233.7l1.9 -1.9 1.9 1.9 -1.9 1.9zM472.2 234.4l1.9 -1.9 1.9 1.9 -1.9 1.9zM461.7 233l1.9 -1.9 1.9 1.9 -1.9 1.9zM460.3 235.1l1.9 -1.9 1.9 1.9 -1.9 1.9zM462.4 235.5l1.9 -1.9 1.9 1.9 -1.9 1.9zM469.4 236.5l1.9 -1.9 1.9 1.9 -1.9 1.9zM467.3 238.6l1.9 -1.9 1.9 1.9 -1.9 1.9zM470.8 238.6l1.9 -1.9 1.9 1.9 -1.9 1.9zM430.2 241.1l1.9 -1.9 1.9 1.9 -1.9 1.9zM437.2 241.6l1.9 -1.9 1.9 1.9 -1.9 1.9zM458.2 239.3l1.9 -1.9 1.9 1.9 -1.9 1.9zM459.6 241.1l1.9 -1.9 1.9 1.9 -1.9 1.9zM461 242.8l1.9 -1.9 1.9 1.9 -1.9 1.9zM458.9 242.8l1.9 -1.9 1.9 1.9 -1.9 1.9zM489.9 240.7l1.9 -1.9 1.9 1.9 -1.9 1.9zM431.6 245.8l1.9 -1.9 1.9 1.9 -1.9 1.9zM436.5 246.3l1.9 -1.9 1.9 1.9 -1.9 1.9zM438.6 244.9l1.9 -1.9 1.9 1.9 -1.9 1.9zM442.1 244.2l1.9 -1.9 1.9 1.9 -1.9 1.9zM468.7 243.5l1.9 -1.9 1.9 1.9 -1.9 1.9zM472.2 245.6l1.9 -1.9 1.9 1.9 -1.9 1.9zM472.9 247.2l1.9 -1.9 1.9 1.9 -1.9 1.9zM463.8 247l1.9 -1.9 1.9 1.9 -1.9 1.9zM435.8 251.2l1.9 -1.9 1.9 1.9 -1.9 1.9zM447 247l1.9 -1.9 1.9 1.9 -1.9 1.9zM448.4 249.1l1.9 -1.9 1.9 1.9 -1.9 1.9zM445.6 250.5l1.9 -1.9 1.9 1.9 -1.9 1.9zM450.5 251.2l1.9 -1.9 1.9 1.9 -1.9 1.9zM454 248.4l1.9 -1.9 1.9 1.9 -1.9 1.9zM455.4 250.5l1.9 -1.9 1.9 1.9 -1.9 1.9zM459.6 249.8l1.9 -1.9 1.9 1.9 -1.9 1.9zM447.7 252.6l1.9 -1.9 1.9 1.9 -1.9 1.9zM451.9 253.3l1.9 -1.9 1.9 1.9 -1.9 1.9zM465.2 251.2l1.9 -1.9 1.9 1.9 -1.9 1.9zM465.9 253.3l1.9 -1.9 1.9 1.9 -1.9 1.9z" fill="#000080"/>
<path d="M353.84 334.43L503 220.65" stroke="#000" stroke-width="1.35" fill="none"/>
</g>
<g>
<path d="M30.7 508.41H270.8M30.7 492.52H270.8M30.7 476.64H270.8M30.7 460.75H270.8M30.7 444.86H270.8M30.7 428.97H270.8M30.7 413.09H270.8" stroke="#909090" stroke-width="1" fill="none"/>
<path d="M29.7 397.2H270.8V524.3" stroke="#979797" stroke-width="1" fill="none"/>
<path d="M30.7 396.7V525.1" stroke="#9a9a9a" stroke-width="1.8" fill="none"/>
<path d="M29.7 524.3H271.3" stroke="#7c7c7c" stroke-width="1.6" fill="none"/>
<path d="M29.6 524.3h2.2M29.6 508.41h2.2M29.6 492.52h2.2M29.6 476.64h2.2M29.6 460.75h2.2M29.6 444.86h2.2M29.6 428.97h2.2M29.6 413.09h2.2M29.6 397.2h2.2" stroke="#666" stroke-width="1" fill="none"/>
<path d="M90.73 524.3v-2.8M150.75 524.3v-2.8M210.78 524.3v-2.8" stroke="#5a5a5a" stroke-width="1" fill="none"/>
<text x="28.7 33.37 38.04" y="539" font-size="8.7" text-anchor="middle" stroke="#111" stroke-width=".3" transform="scale(0.92 1)">0.4</text>
<text x="91.6 96.28 100.95 105.63" y="539" font-size="8.7" text-anchor="middle" stroke="#111" stroke-width=".3" transform="scale(0.92 1)">0.45</text>
<text x="159.18 163.86 168.53" y="539" font-size="8.7" text-anchor="middle" stroke="#111" stroke-width=".3" transform="scale(0.92 1)">0.5</text>
<text x="222.09 226.77 231.44 236.11" y="539" font-size="8.7" text-anchor="middle" stroke="#111" stroke-width=".3" transform="scale(0.92 1)">0.55</text>
<text x="289.67 294.35 299.02" y="539" font-size="8.7" text-anchor="middle" stroke="#111" stroke-width=".3" transform="scale(0.92 1)">0.6</text>
<text x="23.86" y="527.4" font-size="8.7" text-anchor="middle" stroke="#111" stroke-width=".3" transform="scale(0.92 1)">0</text>
<text x="14.51 19.18 23.86" y="511.51" font-size="8.7" text-anchor="middle" stroke="#111" stroke-width=".3" transform="scale(0.92 1)">0.2</text>
<text x="14.51 19.18 23.86" y="495.62" font-size="8.7" text-anchor="middle" stroke="#111" stroke-width=".3" transform="scale(0.92 1)">0.4</text>
<text x="14.51 19.18 23.86" y="479.74" font-size="8.7" text-anchor="middle" stroke="#111" stroke-width=".3" transform="scale(0.92 1)">0.6</text>
<text x="14.51 19.18 23.86" y="463.85" font-size="8.7" text-anchor="middle" stroke="#111" stroke-width=".3" transform="scale(0.92 1)">0.8</text>
<text x="23.86" y="447.96" font-size="8.7" text-anchor="middle" stroke="#111" stroke-width=".3" transform="scale(0.92 1)">1</text>
<text x="14.51 19.18 23.86" y="432.07" font-size="8.7" text-anchor="middle" stroke="#111" stroke-width=".3" transform="scale(0.92 1)">1.2</text>
<text x="14.51 19.18 23.86" y="416.19" font-size="8.7" text-anchor="middle" stroke="#111" stroke-width=".3" transform="scale(0.92 1)">1.4</text>
<text x="14.51 19.18 23.86" y="400.3" font-size="8.7" text-anchor="middle" stroke="#111" stroke-width=".3" transform="scale(0.92 1)">1.6</text>
<text x="125.15" y="391" font-size="10" textLength="39.7" lengthAdjust="spacingAndGlyphs" stroke="#111" stroke-width=".28">November</text>
<text transform="translate(134.59 548) scale(0.71 1)" font-size="8" text-anchor="middle" font-weight="bold" stroke="#111" stroke-width=".32">A</text><text transform="translate(138.66 548) scale(0.71 1)" font-size="8" text-anchor="middle" font-weight="bold" stroke="#111" stroke-width=".32">V</text><text transform="translate(142.73 548) scale(0.659 1)" font-size="8" text-anchor="middle" font-weight="bold" stroke="#111" stroke-width=".32">H</text><text transform="translate(146.8 548) scale(0.71 1)" font-size="8" text-anchor="middle" font-weight="bold" stroke="#111" stroke-width=".32">R</text><text transform="translate(150.87 548) scale(0.71 1)" font-size="8" text-anchor="middle" font-weight="bold" stroke="#111" stroke-width=".32">R</text><text transform="translate(159 548) scale(0.71 1)" font-size="8" text-anchor="middle" font-weight="bold" stroke="#111" stroke-width=".32">N</text><text transform="translate(163.08 548) scale(0.71 1)" font-size="8" text-anchor="middle" font-weight="bold" stroke="#111" stroke-width=".32">D</text><text transform="translate(167.15 548) scale(0.71 1)" font-size="8" text-anchor="middle" font-weight="bold" stroke="#111" stroke-width=".32">V</text><text transform="translate(171.22 548) scale(0.82 1)" font-size="8" text-anchor="middle" font-weight="bold" stroke="#111" stroke-width=".32">I</text>
<g transform="translate(4.4 463.7) rotate(-90)"><text transform="translate(-16.28 2.9) scale(0.636 1)" font-size="8" text-anchor="middle" font-weight="bold" stroke="#111" stroke-width=".32">M</text><text transform="translate(-12.21 2.9) scale(0.659 1)" font-size="8" text-anchor="middle" font-weight="bold" stroke="#111" stroke-width=".32">O</text><text transform="translate(-8.14 2.9) scale(0.71 1)" font-size="8" text-anchor="middle" font-weight="bold" stroke="#111" stroke-width=".32">D</text><text transform="translate(-4.07 2.9) scale(0.82 1)" font-size="8" text-anchor="middle" font-weight="bold" stroke="#111" stroke-width=".32">I</text><text transform="translate(0 2.9) scale(0.82 1)" font-size="8" text-anchor="middle" font-weight="bold" stroke="#111" stroke-width=".32">S</text><text transform="translate(8.14 2.9) scale(0.768 1)" font-size="8" text-anchor="middle" font-weight="bold" stroke="#111" stroke-width=".32">L</text><text transform="translate(12.21 2.9) scale(0.71 1)" font-size="8" text-anchor="middle" font-weight="bold" stroke="#111" stroke-width=".32">A</text><text transform="translate(16.28 2.9) scale(0.82 1)" font-size="8" text-anchor="middle" font-weight="bold" stroke="#111" stroke-width=".32">I</text></g>
<text x="51.57 69.39 73.84 78.29 82.75 87.2 91.65 96.11 113.92 118.37 122.82 127.28 131.73 136.18 145.09 167.36 171.81 176.26 180.72 185.17 189.62" y="407.7" font-size="8.1" text-anchor="middle" stroke="#111" stroke-width=".22" transform="scale(0.92 1)">y8.6542x3.6013R0.9106</text>
<path d="M53.84 403.5h3.6M53.84 405.5h3.6M94.71 404.5h3.8M143.97 403.5h3.6M143.97 405.5h3.6" stroke="#3a3a3a" stroke-width=".75" fill="none"/>
<text x="137.28" y="404.7" font-size="5.6" text-anchor="middle" stroke="#111" stroke-width=".2">2</text>
<path d="M70.3 503.5l1.9 -1.9 1.9 1.9 -1.9 1.9zM75.8 500.1l1.9 -1.9 1.9 1.9 -1.9 1.9zM95.1 500.1l1.9 -1.9 1.9 1.9 -1.9 1.9zM96.5 504l1.9 -1.9 1.9 1.9 -1.9 1.9zM96.1 499.1l1.9 -1.9 1.9 1.9 -1.9 1.9zM95.8 489.2l1.9 -1.9 1.9 1.9 -1.9 1.9zM98 490.3l1.9 -1.9 1.9 1.9 -1.9 1.9zM99.4 488.4l1.9 -1.9 1.9 1.9 -1.9 1.9zM100.9 482.2l1.9 -1.9 1.9 1.9 -1.9 1.9zM101.6 486.3l1.9 -1.9 1.9 1.9 -1.9 1.9zM100.9 492.8l1.9 -1.9 1.9 1.9 -1.9 1.9zM105.3 495.7l1.9 -1.9 1.9 1.9 -1.9 1.9zM105.7 501.9l1.9 -1.9 1.9 1.9 -1.9 1.9zM106.7 486l1.9 -1.9 1.9 1.9 -1.9 1.9zM108.2 484.1l1.9 -1.9 1.9 1.9 -1.9 1.9zM107.4 492.1l1.9 -1.9 1.9 1.9 -1.9 1.9zM110.4 483.1l1.9 -1.9 1.9 1.9 -1.9 1.9zM111.1 479.7l1.9 -1.9 1.9 1.9 -1.9 1.9zM112.5 478.2l1.9 -1.9 1.9 1.9 -1.9 1.9zM111.1 491.4l1.9 -1.9 1.9 1.9 -1.9 1.9zM112.5 498.6l1.9 -1.9 1.9 1.9 -1.9 1.9zM114.7 494.7l1.9 -1.9 1.9 1.9 -1.9 1.9zM114.7 487.4l1.9 -1.9 1.9 1.9 -1.9 1.9zM116.2 479l1.9 -1.9 1.9 1.9 -1.9 1.9zM117.6 477.2l1.9 -1.9 1.9 1.9 -1.9 1.9zM119.1 479.7l1.9 -1.9 1.9 1.9 -1.9 1.9zM115.5 482.6l1.9 -1.9 1.9 1.9 -1.9 1.9zM119.8 475.3l1.9 -1.9 1.9 1.9 -1.9 1.9zM121.3 494.3l1.9 -1.9 1.9 1.9 -1.9 1.9zM123.2 490.3l1.9 -1.9 1.9 1.9 -1.9 1.9zM120.9 496.5l1.9 -1.9 1.9 1.9 -1.9 1.9zM122 498.2l1.9 -1.9 1.9 1.9 -1.9 1.9zM126.4 473.9l1.9 -1.9 1.9 1.9 -1.9 1.9zM129 471.4l1.9 -1.9 1.9 1.9 -1.9 1.9zM130.8 473.9l1.9 -1.9 1.9 1.9 -1.9 1.9zM132.2 474.9l1.9 -1.9 1.9 1.9 -1.9 1.9zM139.5 469.9l1.9 -1.9 1.9 1.9 -1.9 1.9zM142.1 467.6l1.9 -1.9 1.9 1.9 -1.9 1.9zM144.6 471l1.9 -1.9 1.9 1.9 -1.9 1.9zM146.8 468.8l1.9 -1.9 1.9 1.9 -1.9 1.9zM152.2 466.6l1.9 -1.9 1.9 1.9 -1.9 1.9zM156.8 465.5l1.9 -1.9 1.9 1.9 -1.9 1.9zM158.6 467.3l1.9 -1.9 1.9 1.9 -1.9 1.9zM163.1 461.2l1.9 -1.9 1.9 1.9 -1.9 1.9zM168.5 462.6l1.9 -1.9 1.9 1.9 -1.9 1.9zM168.1 464.5l1.9 -1.9 1.9 1.9 -1.9 1.9zM173.6 460.4l1.9 -1.9 1.9 1.9 -1.9 1.9zM173.2 463.1l1.9 -1.9 1.9 1.9 -1.9 1.9zM172.4 456.8l1.9 -1.9 1.9 1.9 -1.9 1.9zM175.8 455.3l1.9 -1.9 1.9 1.9 -1.9 1.9zM178 458.2l1.9 -1.9 1.9 1.9 -1.9 1.9zM178.7 459.7l1.9 -1.9 1.9 1.9 -1.9 1.9zM182.6 455.8l1.9 -1.9 1.9 1.9 -1.9 1.9zM184.5 448.8l1.9 -1.9 1.9 1.9 -1.9 1.9zM185.7 447.3l1.9 -1.9 1.9 1.9 -1.9 1.9zM188.9 449.5l1.9 -1.9 1.9 1.9 -1.9 1.9zM188.2 451.7l1.9 -1.9 1.9 1.9 -1.9 1.9zM190.4 452.4l1.9 -1.9 1.9 1.9 -1.9 1.9zM188.9 457.5l1.9 -1.9 1.9 1.9 -1.9 1.9zM191.4 454.3l1.9 -1.9 1.9 1.9 -1.9 1.9zM192.5 446.6l1.9 -1.9 1.9 1.9 -1.9 1.9zM194.4 450.2l1.9 -1.9 1.9 1.9 -1.9 1.9zM197.4 451l1.9 -1.9 1.9 1.9 -1.9 1.9zM199.1 437.8l1.9 -1.9 1.9 1.9 -1.9 1.9zM199.4 441.5l1.9 -1.9 1.9 1.9 -1.9 1.9zM200.6 443.7l1.9 -1.9 1.9 1.9 -1.9 1.9zM202 445.1l1.9 -1.9 1.9 1.9 -1.9 1.9zM202.7 447.3l1.9 -1.9 1.9 1.9 -1.9 1.9zM203.5 442.9l1.9 -1.9 1.9 1.9 -1.9 1.9zM205.7 440.8l1.9 -1.9 1.9 1.9 -1.9 1.9zM206.4 442.2l1.9 -1.9 1.9 1.9 -1.9 1.9zM208.1 438.6l1.9 -1.9 1.9 1.9 -1.9 1.9zM214.1 435.9l1.9 -1.9 1.9 1.9 -1.9 1.9zM205.7 435.7l1.9 -1.9 1.9 1.9 -1.9 1.9zM204.2 433.5l1.9 -1.9 1.9 1.9 -1.9 1.9zM202 434.2l1.9 -1.9 1.9 1.9 -1.9 1.9zM196.9 433.5l1.9 -1.9 1.9 1.9 -1.9 1.9zM202.7 430.6l1.9 -1.9 1.9 1.9 -1.9 1.9zM199.8 429.8l1.9 -1.9 1.9 1.9 -1.9 1.9zM200.6 426.9l1.9 -1.9 1.9 1.9 -1.9 1.9zM195.9 426.2l1.9 -1.9 1.9 1.9 -1.9 1.9zM204.9 429.1l1.9 -1.9 1.9 1.9 -1.9 1.9zM206.4 426.2l1.9 -1.9 1.9 1.9 -1.9 1.9zM207.8 424.7l1.9 -1.9 1.9 1.9 -1.9 1.9zM210.8 429.1l1.9 -1.9 1.9 1.9 -1.9 1.9zM212.9 425.5l1.9 -1.9 1.9 1.9 -1.9 1.9zM204.2 437.8l1.9 -1.9 1.9 1.9 -1.9 1.9zM199.8 432.7l1.9 -1.9 1.9 1.9 -1.9 1.9zM203.7 411.5l1.9 -1.9 1.9 1.9 -1.9 1.9zM208.2 415.7l1.9 -1.9 1.9 1.9 -1.9 1.9zM210.3 416.4l1.9 -1.9 1.9 1.9 -1.9 1.9zM214.5 417.7l1.9 -1.9 1.9 1.9 -1.9 1.9zM211.7 420.2l1.9 -1.9 1.9 1.9 -1.9 1.9zM205.4 421.6l1.9 -1.9 1.9 1.9 -1.9 1.9zM208.2 422.3l1.9 -1.9 1.9 1.9 -1.9 1.9zM206.1 423.7l1.9 -1.9 1.9 1.9 -1.9 1.9zM222.9 412.9l1.9 -1.9 1.9 1.9 -1.9 1.9zM219.6 414.3l1.9 -1.9 1.9 1.9 -1.9 1.9zM220.8 416.7l1.9 -1.9 1.9 1.9 -1.9 1.9zM219.6 420.9l1.9 -1.9 1.9 1.9 -1.9 1.9zM217.7 423l1.9 -1.9 1.9 1.9 -1.9 1.9zM231.2 419.5l1.9 -1.9 1.9 1.9 -1.9 1.9zM67.3 505.3l1.9 -1.9 1.9 1.9 -1.9 1.9z" fill="#000080"/>
<path d="M69.12 513.39L233.58 419.21" stroke="#000" stroke-width="1.35" fill="none"/>
</g>
<g>
<path d="M323.2 511.52H563.5M323.2 498.84H563.5M323.2 486.16H563.5M323.2 473.48H563.5M323.2 460.8H563.5M323.2 448.12H563.5M323.2 435.44H563.5M323.2 422.76H563.5M323.2 410.08H563.5" stroke="#909090" stroke-width="1" fill="none"/>
<path d="M322.2 397.4H563.5V524.2" stroke="#979797" stroke-width="1" fill="none"/>
<path d="M323.2 396.9V525" stroke="#9a9a9a" stroke-width="1.8" fill="none"/>
<path d="M322.2 524.2H564" stroke="#7c7c7c" stroke-width="1.6" fill="none"/>
<path d="M322.1 524.2h2.2M322.1 511.52h2.2M322.1 498.84h2.2M322.1 486.16h2.2M322.1 473.48h2.2M322.1 460.8h2.2M322.1 448.12h2.2M322.1 435.44h2.2M322.1 422.76h2.2M322.1 410.08h2.2M322.1 397.4h2.2" stroke="#666" stroke-width="1" fill="none"/>
<path d="M383.27 524.2v-2.8M443.35 524.2v-2.8M503.43 524.2v-2.8" stroke="#5a5a5a" stroke-width="1" fill="none"/>
<text x="346.63 351.3 355.98" y="539" font-size="8.7" text-anchor="middle" stroke="#111" stroke-width=".3" transform="scale(0.92 1)">0.3</text>
<text x="409.59 414.27 418.94 423.61" y="539" font-size="8.7" text-anchor="middle" stroke="#111" stroke-width=".3" transform="scale(0.92 1)">0.35</text>
<text x="477.23 481.9 486.58" y="539" font-size="8.7" text-anchor="middle" stroke="#111" stroke-width=".3" transform="scale(0.92 1)">0.4</text>
<text x="540.19 544.86 549.54 554.21" y="539" font-size="8.7" text-anchor="middle" stroke="#111" stroke-width=".3" transform="scale(0.92 1)">0.45</text>
<text x="607.83 612.5 617.17" y="539" font-size="8.7" text-anchor="middle" stroke="#111" stroke-width=".3" transform="scale(0.92 1)">0.5</text>
<text x="341.03" y="527.3" font-size="8.7" text-anchor="middle" stroke="#111" stroke-width=".3" transform="scale(0.92 1)">0</text>
<text x="331.68 336.36 341.03" y="514.62" font-size="8.7" text-anchor="middle" stroke="#111" stroke-width=".3" transform="scale(0.92 1)">0.1</text>
<text x="331.68 336.36 341.03" y="501.94" font-size="8.7" text-anchor="middle" stroke="#111" stroke-width=".3" transform="scale(0.92 1)">0.2</text>
<text x="331.68 336.36 341.03" y="489.26" font-size="8.7" text-anchor="middle" stroke="#111" stroke-width=".3" transform="scale(0.92 1)">0.3</text>
<text x="331.68 336.36 341.03" y="476.58" font-size="8.7" text-anchor="middle" stroke="#111" stroke-width=".3" transform="scale(0.92 1)">0.4</text>
<text x="331.68 336.36 341.03" y="463.9" font-size="8.7" text-anchor="middle" stroke="#111" stroke-width=".3" transform="scale(0.92 1)">0.5</text>
<text x="331.68 336.36 341.03" y="451.22" font-size="8.7" text-anchor="middle" stroke="#111" stroke-width=".3" transform="scale(0.92 1)">0.6</text>
<text x="331.68 336.36 341.03" y="438.54" font-size="8.7" text-anchor="middle" stroke="#111" stroke-width=".3" transform="scale(0.92 1)">0.7</text>
<text x="331.68 336.36 341.03" y="425.86" font-size="8.7" text-anchor="middle" stroke="#111" stroke-width=".3" transform="scale(0.92 1)">0.8</text>
<text x="331.68 336.36 341.03" y="413.18" font-size="8.7" text-anchor="middle" stroke="#111" stroke-width=".3" transform="scale(0.92 1)">0.9</text>
<text x="341.03" y="400.5" font-size="8.7" text-anchor="middle" stroke="#111" stroke-width=".3" transform="scale(0.92 1)">1</text>
<text x="421.3" y="392.2" font-size="10" textLength="40" lengthAdjust="spacingAndGlyphs" stroke="#111" stroke-width=".28">December</text>
<text transform="translate(426.99 548) scale(0.71 1)" font-size="8" text-anchor="middle" font-weight="bold" stroke="#111" stroke-width=".32">A</text><text transform="translate(431.06 548) scale(0.71 1)" font-size="8" text-anchor="middle" font-weight="bold" stroke="#111" stroke-width=".32">V</text><text transform="translate(435.12 548) scale(0.659 1)" font-size="8" text-anchor="middle" font-weight="bold" stroke="#111" stroke-width=".32">H</text><text transform="translate(439.19 548) scale(0.71 1)" font-size="8" text-anchor="middle" font-weight="bold" stroke="#111" stroke-width=".32">R</text><text transform="translate(443.26 548) scale(0.71 1)" font-size="8" text-anchor="middle" font-weight="bold" stroke="#111" stroke-width=".32">R</text><text transform="translate(451.41 548) scale(0.71 1)" font-size="8" text-anchor="middle" font-weight="bold" stroke="#111" stroke-width=".32">N</text><text transform="translate(455.48 548) scale(0.71 1)" font-size="8" text-anchor="middle" font-weight="bold" stroke="#111" stroke-width=".32">D</text><text transform="translate(459.55 548) scale(0.71 1)" font-size="8" text-anchor="middle" font-weight="bold" stroke="#111" stroke-width=".32">V</text><text transform="translate(463.62 548) scale(0.82 1)" font-size="8" text-anchor="middle" font-weight="bold" stroke="#111" stroke-width=".32">I</text>
<g transform="translate(296.5 463.7) rotate(-90)"><text transform="translate(-16.28 2.9) scale(0.636 1)" font-size="8" text-anchor="middle" font-weight="bold" stroke="#111" stroke-width=".32">M</text><text transform="translate(-12.21 2.9) scale(0.659 1)" font-size="8" text-anchor="middle" font-weight="bold" stroke="#111" stroke-width=".32">O</text><text transform="translate(-8.14 2.9) scale(0.71 1)" font-size="8" text-anchor="middle" font-weight="bold" stroke="#111" stroke-width=".32">D</text><text transform="translate(-4.07 2.9) scale(0.82 1)" font-size="8" text-anchor="middle" font-weight="bold" stroke="#111" stroke-width=".32">I</text><text transform="translate(0 2.9) scale(0.82 1)" font-size="8" text-anchor="middle" font-weight="bold" stroke="#111" stroke-width=".32">S</text><text transform="translate(8.14 2.9) scale(0.768 1)" font-size="8" text-anchor="middle" font-weight="bold" stroke="#111" stroke-width=".32">L</text><text transform="translate(12.21 2.9) scale(0.71 1)" font-size="8" text-anchor="middle" font-weight="bold" stroke="#111" stroke-width=".32">A</text><text transform="translate(16.28 2.9) scale(0.82 1)" font-size="8" text-anchor="middle" font-weight="bold" stroke="#111" stroke-width=".32">I</text></g>
<text x="368.31 386.13 390.58 395.03 399.49 403.94 408.39 412.84 430.66 435.11 439.56 444.02 448.47 452.92 461.83 484.09 488.55 493 497.45 501.91 506.36" y="406.6" font-size="8.1" text-anchor="middle" stroke="#111" stroke-width=".22" transform="scale(0.92 1)">y3.9396x1.1473R0.9027</text>
<path d="M345.24 402.5h3.6M345.24 404.5h3.6M386.11 403.4h3.8M435.37 402.5h3.6M435.37 404.5h3.6" stroke="#3a3a3a" stroke-width=".75" fill="none"/>
<text x="428.68" y="403.6" font-size="5.6" text-anchor="middle" stroke="#111" stroke-width=".2">2</text>
<path d="M345.4 508.6l1.9 -1.9 1.9 1.9 -1.9 1.9zM352.4 497.5l1.9 -1.9 1.9 1.9 -1.9 1.9zM352.7 501.1l1.9 -1.9 1.9 1.9 -1.9 1.9zM353.8 502.7l1.9 -1.9 1.9 1.9 -1.9 1.9zM355.6 506.4l1.9 -1.9 1.9 1.9 -1.9 1.9zM354.9 511.3l1.9 -1.9 1.9 1.9 -1.9 1.9zM361.4 498.6l1.9 -1.9 1.9 1.9 -1.9 1.9zM365.3 503.7l1.9 -1.9 1.9 1.9 -1.9 1.9zM366.8 499.8l1.9 -1.9 1.9 1.9 -1.9 1.9zM372.3 496l1.9 -1.9 1.9 1.9 -1.9 1.9zM374.5 493.5l1.9 -1.9 1.9 1.9 -1.9 1.9zM378.6 494.6l1.9 -1.9 1.9 1.9 -1.9 1.9zM375.7 507.4l1.9 -1.9 1.9 1.9 -1.9 1.9zM383.3 492.1l1.9 -1.9 1.9 1.9 -1.9 1.9zM385.5 504.9l1.9 -1.9 1.9 1.9 -1.9 1.9zM386.9 489.9l1.9 -1.9 1.9 1.9 -1.9 1.9zM389.5 487.3l1.9 -1.9 1.9 1.9 -1.9 1.9zM392.7 490.9l1.9 -1.9 1.9 1.9 -1.9 1.9zM394.6 484.5l1.9 -1.9 1.9 1.9 -1.9 1.9zM397.1 486l1.9 -1.9 1.9 1.9 -1.9 1.9zM402.9 482.2l1.9 -1.9 1.9 1.9 -1.9 1.9zM404.8 478.5l1.9 -1.9 1.9 1.9 -1.9 1.9zM408 477.1l1.9 -1.9 1.9 1.9 -1.9 1.9zM407.8 483.1l1.9 -1.9 1.9 1.9 -1.9 1.9zM409.5 479.7l1.9 -1.9 1.9 1.9 -1.9 1.9zM416.1 475.8l1.9 -1.9 1.9 1.9 -1.9 1.9zM420.6 474.6l1.9 -1.9 1.9 1.9 -1.9 1.9zM425.7 471.8l1.9 -1.9 1.9 1.9 -1.9 1.9zM427.6 473.1l1.9 -1.9 1.9 1.9 -1.9 1.9zM437.5 469.5l1.9 -1.9 1.9 1.9 -1.9 1.9zM440.7 470.9l1.9 -1.9 1.9 1.9 -1.9 1.9zM446.2 468.2l1.9 -1.9 1.9 1.9 -1.9 1.9zM453.5 467l1.9 -1.9 1.9 1.9 -1.9 1.9zM455.7 466l1.9 -1.9 1.9 1.9 -1.9 1.9zM471.6 464.4l1.9 -1.9 1.9 1.9 -1.9 1.9zM475.7 463.1l1.9 -1.9 1.9 1.9 -1.9 1.9zM488.8 461.9l1.9 -1.9 1.9 1.9 -1.9 1.9zM490.7 460.7l1.9 -1.9 1.9 1.9 -1.9 1.9zM494.6 459.4l1.9 -1.9 1.9 1.9 -1.9 1.9zM499.4 458.5l1.9 -1.9 1.9 1.9 -1.9 1.9zM535.6 406.2l1.9 -1.9 1.9 1.9 -1.9 1.9zM545.5 404.6l1.9 -1.9 1.9 1.9 -1.9 1.9zM544 407.5l1.9 -1.9 1.9 1.9 -1.9 1.9zM548.7 410.1l1.9 -1.9 1.9 1.9 -1.9 1.9zM552 416.2l1.9 -1.9 1.9 1.9 -1.9 1.9zM526.2 411.3l1.9 -1.9 1.9 1.9 -1.9 1.9zM536 412.3l1.9 -1.9 1.9 1.9 -1.9 1.9zM536.7 414.2l1.9 -1.9 1.9 1.9 -1.9 1.9zM533.1 415.2l1.9 -1.9 1.9 1.9 -1.9 1.9zM532.4 417.7l1.9 -1.9 1.9 1.9 -1.9 1.9zM528.7 419.1l1.9 -1.9 1.9 1.9 -1.9 1.9zM540.4 420l1.9 -1.9 1.9 1.9 -1.9 1.9zM541.4 422.5l1.9 -1.9 1.9 1.9 -1.9 1.9zM550.1 421l1.9 -1.9 1.9 1.9 -1.9 1.9zM542.3 426.1l1.9 -1.9 1.9 1.9 -1.9 1.9zM529.2 424.7l1.9 -1.9 1.9 1.9 -1.9 1.9zM529.2 427.6l1.9 -1.9 1.9 1.9 -1.9 1.9zM534.3 429.1l1.9 -1.9 1.9 1.9 -1.9 1.9zM541.8 431.5l1.9 -1.9 1.9 1.9 -1.9 1.9zM531.6 432.4l1.9 -1.9 1.9 1.9 -1.9 1.9zM536.4 435.2l1.9 -1.9 1.9 1.9 -1.9 1.9zM535.6 436.6l1.9 -1.9 1.9 1.9 -1.9 1.9zM529.4 434.2l1.9 -1.9 1.9 1.9 -1.9 1.9zM530.2 437.8l1.9 -1.9 1.9 1.9 -1.9 1.9zM532.7 439.6l1.9 -1.9 1.9 1.9 -1.9 1.9zM525.1 440.4l1.9 -1.9 1.9 1.9 -1.9 1.9zM529.4 441.4l1.9 -1.9 1.9 1.9 -1.9 1.9zM538.6 443.2l1.9 -1.9 1.9 1.9 -1.9 1.9zM522.2 444.1l1.9 -1.9 1.9 1.9 -1.9 1.9zM526.2 445.5l1.9 -1.9 1.9 1.9 -1.9 1.9zM529.9 446.8l1.9 -1.9 1.9 1.9 -1.9 1.9zM522.4 448.3l1.9 -1.9 1.9 1.9 -1.9 1.9zM523.3 450.6l1.9 -1.9 1.9 1.9 -1.9 1.9zM509.8 453.1l1.9 -1.9 1.9 1.9 -1.9 1.9zM515.9 451.9l1.9 -1.9 1.9 1.9 -1.9 1.9zM513.7 454.3l1.9 -1.9 1.9 1.9 -1.9 1.9zM510.5 456.5l1.9 -1.9 1.9 1.9 -1.9 1.9z" fill="#000080"/>
<path d="M347.23 509.82L553.89 423.9" stroke="#000" stroke-width="1.35" fill="none"/>
</g>
</svg>
</body></html>
